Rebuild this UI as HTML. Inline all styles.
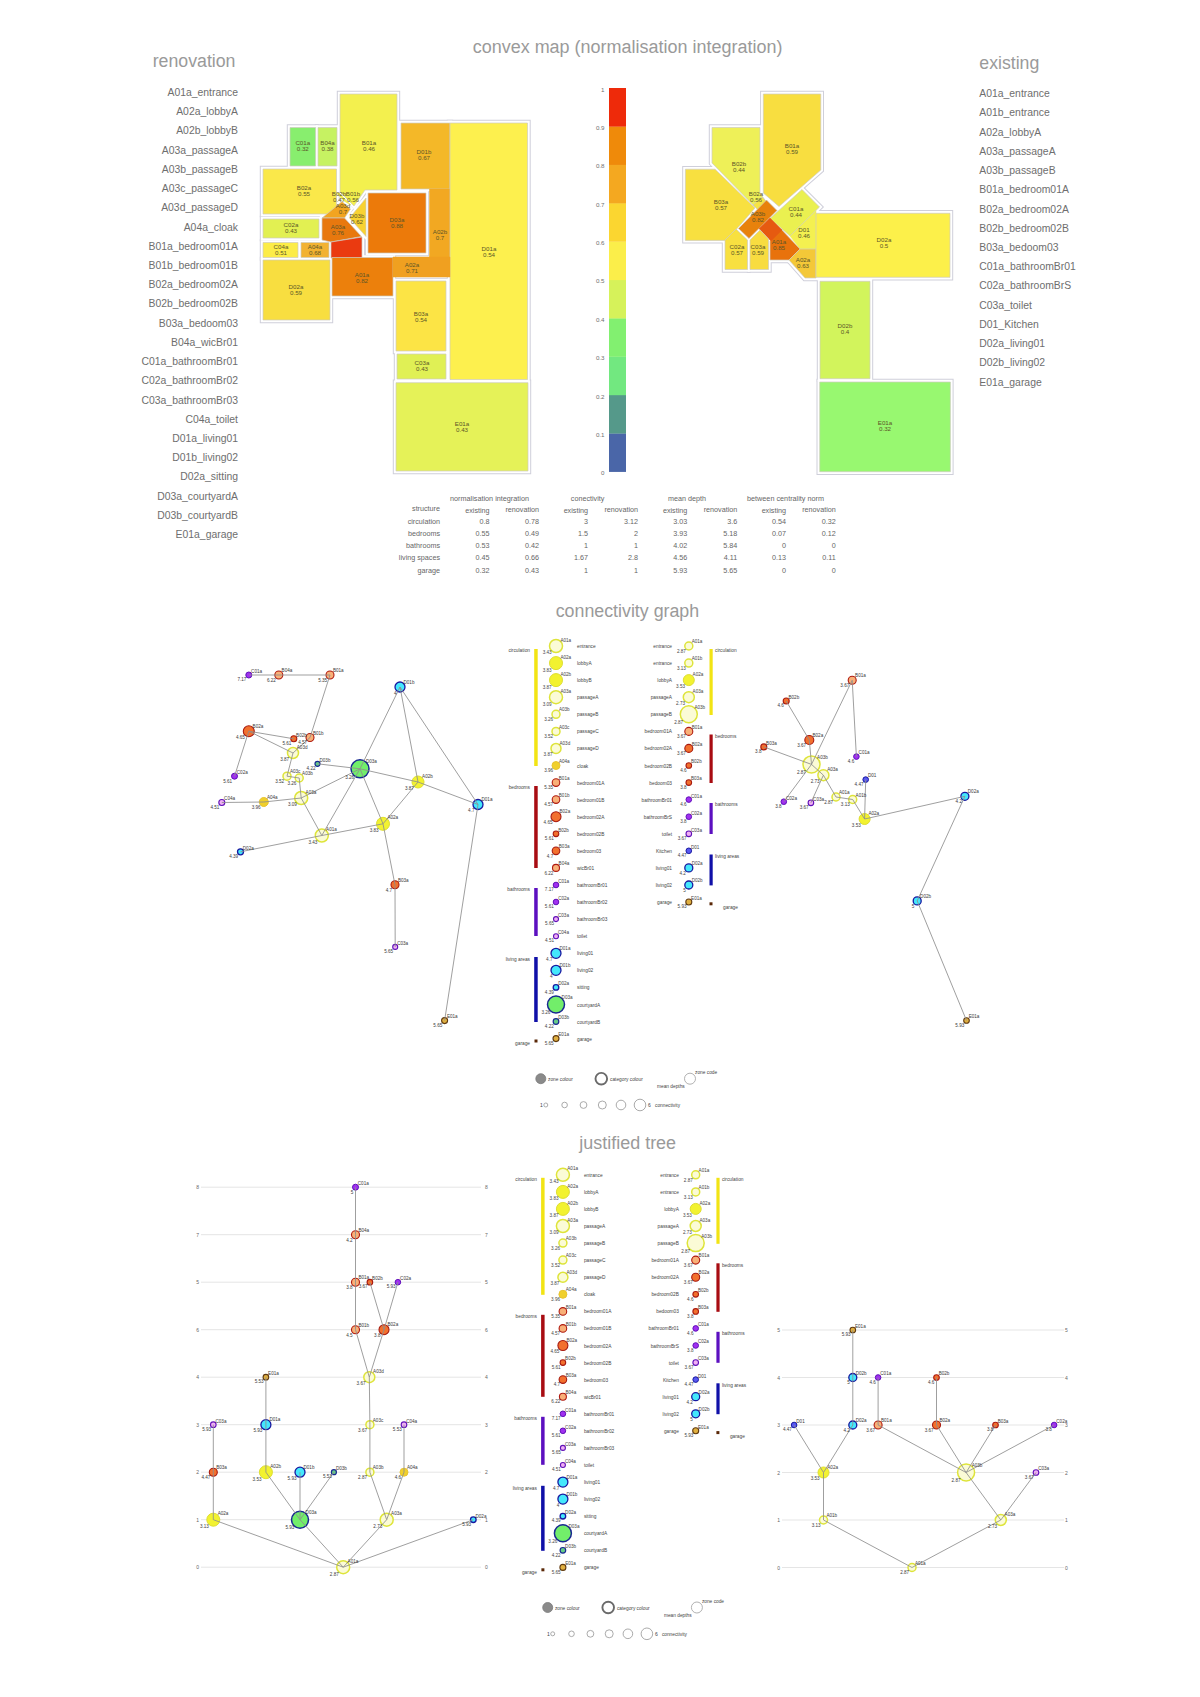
<!DOCTYPE html>
<html><head><meta charset="utf-8"><title>space syntax</title>
<style>html,body{margin:0;padding:0;background:#fff;width:1200px;height:1697px;overflow:hidden}svg{display:block}text{font-family:'Liberation Sans', sans-serif}</style>
</head><body>
<svg width="1200" height="1697" viewBox="0 0 1200 1697">
<rect width="1200" height="1697" fill="#fff"/>
<text x="472.7" y="52.7" font-size="18" fill="#9a9a9a" textLength="309.7" lengthAdjust="spacingAndGlyphs">convex map (normalisation integration)</text>
<text x="152.7" y="66.5" font-size="18" fill="#9a9a9a" textLength="82.80000000000001" lengthAdjust="spacingAndGlyphs">renovation</text>
<text x="979.3" y="68.8" font-size="18.5" fill="#9a9a9a" textLength="60.0" lengthAdjust="spacingAndGlyphs">existing</text>
<text x="555.7" y="617.2" font-size="18" fill="#9a9a9a" textLength="143.5" lengthAdjust="spacingAndGlyphs">connectivity graph</text>
<text x="579.3" y="1149" font-size="18" fill="#9a9a9a" textLength="96.80000000000007" lengthAdjust="spacingAndGlyphs">justified tree</text>
<text x="238.0" y="96.0" font-size="10.4" fill="#6e6e6e" text-anchor="end" >A01a_entrance</text>
<text x="238.0" y="115.2" font-size="10.4" fill="#6e6e6e" text-anchor="end" >A02a_lobbyA</text>
<text x="238.0" y="134.4" font-size="10.4" fill="#6e6e6e" text-anchor="end" >A02b_lobbyB</text>
<text x="238.0" y="153.7" font-size="10.4" fill="#6e6e6e" text-anchor="end" >A03a_passageA</text>
<text x="238.0" y="172.9" font-size="10.4" fill="#6e6e6e" text-anchor="end" >A03b_passageB</text>
<text x="238.0" y="192.1" font-size="10.4" fill="#6e6e6e" text-anchor="end" >A03c_passageC</text>
<text x="238.0" y="211.3" font-size="10.4" fill="#6e6e6e" text-anchor="end" >A03d_passageD</text>
<text x="238.0" y="230.5" font-size="10.4" fill="#6e6e6e" text-anchor="end" >A04a_cloak</text>
<text x="238.0" y="249.8" font-size="10.4" fill="#6e6e6e" text-anchor="end" >B01a_bedroom01A</text>
<text x="238.0" y="269.0" font-size="10.4" fill="#6e6e6e" text-anchor="end" >B01b_bedroom01B</text>
<text x="238.0" y="288.2" font-size="10.4" fill="#6e6e6e" text-anchor="end" >B02a_bedroom02A</text>
<text x="238.0" y="307.4" font-size="10.4" fill="#6e6e6e" text-anchor="end" >B02b_bedroom02B</text>
<text x="238.0" y="326.6" font-size="10.4" fill="#6e6e6e" text-anchor="end" >B03a_bedoom03</text>
<text x="238.0" y="345.9" font-size="10.4" fill="#6e6e6e" text-anchor="end" >B04a_wicBr01</text>
<text x="238.0" y="365.1" font-size="10.4" fill="#6e6e6e" text-anchor="end" >C01a_bathroomBr01</text>
<text x="238.0" y="384.3" font-size="10.4" fill="#6e6e6e" text-anchor="end" >C02a_bathroomBr02</text>
<text x="238.0" y="403.5" font-size="10.4" fill="#6e6e6e" text-anchor="end" >C03a_bathroomBr03</text>
<text x="238.0" y="422.7" font-size="10.4" fill="#6e6e6e" text-anchor="end" >C04a_toilet</text>
<text x="238.0" y="442.0" font-size="10.4" fill="#6e6e6e" text-anchor="end" >D01a_living01</text>
<text x="238.0" y="461.2" font-size="10.4" fill="#6e6e6e" text-anchor="end" >D01b_living02</text>
<text x="238.0" y="480.4" font-size="10.4" fill="#6e6e6e" text-anchor="end" >D02a_sitting</text>
<text x="238.0" y="499.6" font-size="10.4" fill="#6e6e6e" text-anchor="end" >D03a_courtyardA</text>
<text x="238.0" y="518.8" font-size="10.4" fill="#6e6e6e" text-anchor="end" >D03b_courtyardB</text>
<text x="238.0" y="538.1" font-size="10.4" fill="#6e6e6e" text-anchor="end" >E01a_garage</text>
<text x="979.3" y="97.2" font-size="10.4" fill="#6e6e6e" text-anchor="start" >A01a_entrance</text>
<text x="979.3" y="116.4" font-size="10.4" fill="#6e6e6e" text-anchor="start" >A01b_entrance</text>
<text x="979.3" y="135.6" font-size="10.4" fill="#6e6e6e" text-anchor="start" >A02a_lobbyA</text>
<text x="979.3" y="154.9" font-size="10.4" fill="#6e6e6e" text-anchor="start" >A03a_passageA</text>
<text x="979.3" y="174.1" font-size="10.4" fill="#6e6e6e" text-anchor="start" >A03b_passageB</text>
<text x="979.3" y="193.3" font-size="10.4" fill="#6e6e6e" text-anchor="start" >B01a_bedroom01A</text>
<text x="979.3" y="212.5" font-size="10.4" fill="#6e6e6e" text-anchor="start" >B02a_bedroom02A</text>
<text x="979.3" y="231.7" font-size="10.4" fill="#6e6e6e" text-anchor="start" >B02b_bedroom02B</text>
<text x="979.3" y="251.0" font-size="10.4" fill="#6e6e6e" text-anchor="start" >B03a_bedoom03</text>
<text x="979.3" y="270.2" font-size="10.4" fill="#6e6e6e" text-anchor="start" >C01a_bathroomBr01</text>
<text x="979.3" y="289.4" font-size="10.4" fill="#6e6e6e" text-anchor="start" >C02a_bathroomBrS</text>
<text x="979.3" y="308.6" font-size="10.4" fill="#6e6e6e" text-anchor="start" >C03a_toilet</text>
<text x="979.3" y="327.8" font-size="10.4" fill="#6e6e6e" text-anchor="start" >D01_Kitchen</text>
<text x="979.3" y="347.1" font-size="10.4" fill="#6e6e6e" text-anchor="start" >D02a_living01</text>
<text x="979.3" y="366.3" font-size="10.4" fill="#6e6e6e" text-anchor="start" >D02b_living02</text>
<text x="979.3" y="385.5" font-size="10.4" fill="#6e6e6e" text-anchor="start" >E01a_garage</text>
<g fill="#cfcfda" stroke="#cfcfda" stroke-width="6.4" stroke-linejoin="miter"><polygon points="340.0,94.0 397.0,94.0 397.0,190.0 365.0,190.0 354.0,206.0 340.0,192.0"/><polygon points="290.0,127.5 315.6,127.5 315.6,166.0 290.0,166.0"/><polygon points="318.0,127.5 337.0,127.5 337.0,166.0 318.0,166.0"/><polygon points="263.0,169.0 336.5,169.0 336.5,214.0 263.0,214.0"/><polygon points="263.0,219.0 319.0,219.0 319.0,238.0 263.0,238.0"/><polygon points="263.0,242.5 298.0,242.5 298.0,257.5 263.0,257.5"/><polygon points="301.0,242.5 329.0,242.5 329.0,257.5 301.0,257.5"/><polygon points="263.0,260.0 330.0,260.0 330.0,320.0 263.0,320.0"/><polygon points="322.0,218.0 342.0,201.5 350.5,209.0 344.5,218.0"/><polygon points="366.0,198.0 366.0,236.5 349.5,218.0"/><polygon points="322.0,218.0 344.5,218.0 361.5,236.5 331.0,242.0 322.0,240.0"/><polygon points="331.0,242.0 362.0,237.0 362.0,258.0 331.0,258.0"/><polygon points="401.0,123.0 450.0,123.0 450.0,189.0 401.0,189.0"/><polygon points="450.0,123.0 527.5,123.0 527.5,379.5 450.0,379.5"/><polygon points="332.0,257.5 393.0,257.5 393.0,296.0 332.0,296.0"/><polygon points="396.0,281.0 446.0,281.0 446.0,351.0 396.0,351.0"/><polygon points="397.0,354.0 446.0,354.0 446.0,379.0 397.0,379.0"/><polygon points="396.0,382.7 528.0,382.7 528.0,471.0 396.0,471.0"/><polygon points="368.0,193.0 426.0,193.0 426.0,253.0 368.0,253.0"/></g>
<g fill="#fff" stroke="#fff" stroke-width="4.4" stroke-linejoin="miter"><polygon points="340.0,94.0 397.0,94.0 397.0,190.0 365.0,190.0 354.0,206.0 340.0,192.0"/><polygon points="290.0,127.5 315.6,127.5 315.6,166.0 290.0,166.0"/><polygon points="318.0,127.5 337.0,127.5 337.0,166.0 318.0,166.0"/><polygon points="263.0,169.0 336.5,169.0 336.5,214.0 263.0,214.0"/><polygon points="263.0,219.0 319.0,219.0 319.0,238.0 263.0,238.0"/><polygon points="263.0,242.5 298.0,242.5 298.0,257.5 263.0,257.5"/><polygon points="301.0,242.5 329.0,242.5 329.0,257.5 301.0,257.5"/><polygon points="263.0,260.0 330.0,260.0 330.0,320.0 263.0,320.0"/><polygon points="322.0,218.0 342.0,201.5 350.5,209.0 344.5,218.0"/><polygon points="366.0,198.0 366.0,236.5 349.5,218.0"/><polygon points="322.0,218.0 344.5,218.0 361.5,236.5 331.0,242.0 322.0,240.0"/><polygon points="331.0,242.0 362.0,237.0 362.0,258.0 331.0,258.0"/><polygon points="401.0,123.0 450.0,123.0 450.0,189.0 401.0,189.0"/><polygon points="450.0,123.0 527.5,123.0 527.5,379.5 450.0,379.5"/><polygon points="332.0,257.5 393.0,257.5 393.0,296.0 332.0,296.0"/><polygon points="396.0,281.0 446.0,281.0 446.0,351.0 396.0,351.0"/><polygon points="397.0,354.0 446.0,354.0 446.0,379.0 397.0,379.0"/><polygon points="396.0,382.7 528.0,382.7 528.0,471.0 396.0,471.0"/><polygon points="368.0,193.0 426.0,193.0 426.0,253.0 368.0,253.0"/></g>

<polygon points="340.0,94.0 397.0,94.0 397.0,190.0 365.0,190.0 354.0,206.0 340.0,192.0" fill="#f3f04e" stroke="#cfcbc0" stroke-width="0.7"/>
<polygon points="336.5,193.0 339.0,193.0 351.0,205.0 344.0,201.0" fill="#f4ec4c" stroke="#f4ec4c" stroke-width="0.5"/>
<polygon points="290.0,127.5 315.6,127.5 315.6,166.0 290.0,166.0" fill="#88ee6e" stroke="#cfcbc0" stroke-width="0.7"/>
<polygon points="318.0,127.5 337.0,127.5 337.0,166.0 318.0,166.0" fill="#c6f262" stroke="#cfcbc0" stroke-width="0.7"/>
<polygon points="263.0,169.0 336.5,169.0 336.5,214.0 263.0,214.0" fill="#fae84a" stroke="#cfcbc0" stroke-width="0.7"/>
<polygon points="263.0,219.0 319.0,219.0 319.0,238.0 263.0,238.0" fill="#e2f052" stroke="#cfcbc0" stroke-width="0.7"/>
<polygon points="263.0,242.5 298.0,242.5 298.0,257.5 263.0,257.5" fill="#fcec48" stroke="#cfcbc0" stroke-width="0.7"/>
<polygon points="301.0,242.5 329.0,242.5 329.0,257.5 301.0,257.5" fill="#f2b232" stroke="#cfcbc0" stroke-width="0.7"/>
<polygon points="263.0,260.0 330.0,260.0 330.0,320.0 263.0,320.0" fill="#f8de40" stroke="#cfcbc0" stroke-width="0.7"/>
<polygon points="322.0,218.0 342.0,201.5 350.5,209.0 344.5,218.0" fill="#f2a420" stroke="#cfcbc0" stroke-width="0.7"/>
<polygon points="366.0,198.0 366.0,236.5 349.5,218.0" fill="#f8d232" stroke="#cfcbc0" stroke-width="0.7"/>
<polygon points="322.0,218.0 344.5,218.0 361.5,236.5 331.0,242.0 322.0,240.0" fill="#e8780e" stroke="#cfcbc0" stroke-width="0.7"/>
<polygon points="331.0,242.0 362.0,237.0 362.0,258.0 331.0,258.0" fill="#ea3a10" stroke="#cfcbc0" stroke-width="0.7"/>
<polygon points="401.0,123.0 450.0,123.0 450.0,189.0 401.0,189.0" fill="#f4b828" stroke="#cfcbc0" stroke-width="0.7"/>
<polygon points="429.5,189.0 450.0,189.0 450.0,257.0 429.5,257.0" fill="#f2a822" stroke="#f2a822" stroke-width="0.5"/>
<polygon points="450.0,123.0 527.5,123.0 527.5,379.5 450.0,379.5" fill="#fdf04e" stroke="#cfcbc0" stroke-width="0.7"/>
<polygon points="332.0,257.5 393.0,257.5 393.0,296.0 332.0,296.0" fill="#ec800c" stroke="#cfcbc0" stroke-width="0.7"/>
<polygon points="393.0,257.0 450.0,257.0 450.0,277.0 393.0,277.0" fill="#f0a020" stroke="#f0a020" stroke-width="0.5"/>
<polygon points="396.0,281.0 446.0,281.0 446.0,351.0 396.0,351.0" fill="#fce445" stroke="#cfcbc0" stroke-width="0.7"/>
<polygon points="397.0,354.0 446.0,354.0 446.0,379.0 397.0,379.0" fill="#e0f055" stroke="#cfcbc0" stroke-width="0.7"/>
<polygon points="396.0,382.7 528.0,382.7 528.0,471.0 396.0,471.0" fill="#e5f258" stroke="#cfcbc0" stroke-width="0.7"/>
<polygon points="368.0,193.0 426.0,193.0 426.0,253.0 368.0,253.0" fill="#ec7a0a" stroke="#cfcbc0" stroke-width="0.7"/>
<text x="369.0" y="145.0" font-size="6.2" fill="#5c5628" text-anchor="middle" >B01a</text>
<text x="369.0" y="151.0" font-size="6.2" fill="#5c5628" text-anchor="middle" >0.46</text>
<text x="302.8" y="145.0" font-size="6.2" fill="#5c5628" text-anchor="middle" >C01a</text>
<text x="302.8" y="151.0" font-size="6.2" fill="#5c5628" text-anchor="middle" >0.32</text>
<text x="327.5" y="145.0" font-size="6.2" fill="#5c5628" text-anchor="middle" >B04a</text>
<text x="327.5" y="151.0" font-size="6.2" fill="#5c5628" text-anchor="middle" >0.38</text>
<text x="304.0" y="190.0" font-size="6.2" fill="#5c5628" text-anchor="middle" >B02a</text>
<text x="304.0" y="196.0" font-size="6.2" fill="#5c5628" text-anchor="middle" >0.55</text>
<text x="291.0" y="227.0" font-size="6.2" fill="#5c5628" text-anchor="middle" >C02a</text>
<text x="291.0" y="233.0" font-size="6.2" fill="#5c5628" text-anchor="middle" >0.43</text>
<text x="281.0" y="249.0" font-size="6.2" fill="#5c5628" text-anchor="middle" >C04a</text>
<text x="281.0" y="255.0" font-size="6.2" fill="#5c5628" text-anchor="middle" >0.51</text>
<text x="315.0" y="249.0" font-size="6.2" fill="#5c5628" text-anchor="middle" >A04a</text>
<text x="315.0" y="255.0" font-size="6.2" fill="#5c5628" text-anchor="middle" >0.68</text>
<text x="296.0" y="289.0" font-size="6.2" fill="#5c5628" text-anchor="middle" >D02a</text>
<text x="296.0" y="295.0" font-size="6.2" fill="#5c5628" text-anchor="middle" >0.59</text>
<text x="343.0" y="208.0" font-size="6.2" fill="#5c5628" text-anchor="middle" >A03d</text>
<text x="343.0" y="214.0" font-size="6.2" fill="#5c5628" text-anchor="middle" >0.7</text>
<text x="357.0" y="218.0" font-size="6.2" fill="#5c5628" text-anchor="middle" >D03b</text>
<text x="357.0" y="224.0" font-size="6.2" fill="#5c5628" text-anchor="middle" >0.62</text>
<text x="338.0" y="229.0" font-size="6.2" fill="#5c5628" text-anchor="middle" >A03a</text>
<text x="338.0" y="235.0" font-size="6.2" fill="#5c5628" text-anchor="middle" >0.76</text>
<text x="424.0" y="154.0" font-size="6.2" fill="#5c5628" text-anchor="middle" >D01b</text>
<text x="424.0" y="160.0" font-size="6.2" fill="#5c5628" text-anchor="middle" >0.67</text>
<text x="440.0" y="234.0" font-size="6.2" fill="#5c5628" text-anchor="middle" >A02b</text>
<text x="440.0" y="240.0" font-size="6.2" fill="#5c5628" text-anchor="middle" >0.7</text>
<text x="489.0" y="251.0" font-size="6.2" fill="#5c5628" text-anchor="middle" >D01a</text>
<text x="489.0" y="257.0" font-size="6.2" fill="#5c5628" text-anchor="middle" >0.54</text>
<text x="362.0" y="277.0" font-size="6.2" fill="#5c5628" text-anchor="middle" >A01a</text>
<text x="362.0" y="283.0" font-size="6.2" fill="#5c5628" text-anchor="middle" >0.82</text>
<text x="412.0" y="267.0" font-size="6.2" fill="#5c5628" text-anchor="middle" >A02a</text>
<text x="412.0" y="273.0" font-size="6.2" fill="#5c5628" text-anchor="middle" >0.71</text>
<text x="421.0" y="316.0" font-size="6.2" fill="#5c5628" text-anchor="middle" >B03a</text>
<text x="421.0" y="322.0" font-size="6.2" fill="#5c5628" text-anchor="middle" >0.54</text>
<text x="422.0" y="365.0" font-size="6.2" fill="#5c5628" text-anchor="middle" >C03a</text>
<text x="422.0" y="371.0" font-size="6.2" fill="#5c5628" text-anchor="middle" >0.43</text>
<text x="462.0" y="426.0" font-size="6.2" fill="#5c5628" text-anchor="middle" >E01a</text>
<text x="462.0" y="432.0" font-size="6.2" fill="#5c5628" text-anchor="middle" >0.43</text>
<text x="397.0" y="222.0" font-size="6.2" fill="#5c5628" text-anchor="middle" >D03a</text>
<text x="397.0" y="228.0" font-size="6.2" fill="#5c5628" text-anchor="middle" >0.88</text>
<text x="339.0" y="196.0" font-size="6.2" fill="#5c5628" text-anchor="middle" >B02b</text>
<text x="339.0" y="202.0" font-size="6.2" fill="#5c5628" text-anchor="middle" >0.47</text>
<text x="353.0" y="196.0" font-size="6.2" fill="#5c5628" text-anchor="middle" >B01b</text>
<text x="353.0" y="202.0" font-size="6.2" fill="#5c5628" text-anchor="middle" >0.56</text>
<g fill="#cfcfda" stroke="#cfcfda" stroke-width="6.4" stroke-linejoin="miter"><polygon points="763.3,94.0 820.8,94.0 820.8,170.0 779.0,206.5 763.3,193.0"/><polygon points="712.0,127.5 760.0,127.5 760.0,193.0 765.0,200.0 755.0,207.0 712.0,163.0"/><polygon points="685.4,169.2 715.0,169.2 755.0,208.0 738.0,227.5 725.0,240.4 685.4,240.4"/><polygon points="753.0,205.0 762.0,197.0 770.0,205.0 761.0,213.0"/><polygon points="770.0,218.5 802.0,189.5 819.5,207.0 790.0,236.0"/><polygon points="738.5,228.5 766.5,200.0 777.0,210.5 749.0,238.5"/><polygon points="771.0,240.0 781.5,229.5 800.0,249.0 789.0,260.0 770.0,260.0 770.0,241.0"/><polygon points="789.0,260.0 800.0,249.0 816.0,249.0 816.0,278.0 805.0,278.0"/><polygon points="725.0,240.0 736.0,229.0 747.5,240.0 747.5,269.5 725.0,269.5"/><polygon points="750.0,240.0 760.0,230.0 768.5,239.0 768.5,269.5 750.0,269.5"/><polygon points="816.0,213.3 950.0,213.3 950.0,277.3 816.0,277.3"/><polygon points="820.0,281.3 870.0,281.3 870.0,378.7 820.0,378.7"/><polygon points="819.7,382.0 950.4,382.0 950.4,471.7 819.7,471.7"/></g>
<g fill="#fff" stroke="#fff" stroke-width="4.4" stroke-linejoin="miter"><polygon points="763.3,94.0 820.8,94.0 820.8,170.0 779.0,206.5 763.3,193.0"/><polygon points="712.0,127.5 760.0,127.5 760.0,193.0 765.0,200.0 755.0,207.0 712.0,163.0"/><polygon points="685.4,169.2 715.0,169.2 755.0,208.0 738.0,227.5 725.0,240.4 685.4,240.4"/><polygon points="753.0,205.0 762.0,197.0 770.0,205.0 761.0,213.0"/><polygon points="770.0,218.5 802.0,189.5 819.5,207.0 790.0,236.0"/><polygon points="738.5,228.5 766.5,200.0 777.0,210.5 749.0,238.5"/><polygon points="771.0,240.0 781.5,229.5 800.0,249.0 789.0,260.0 770.0,260.0 770.0,241.0"/><polygon points="789.0,260.0 800.0,249.0 816.0,249.0 816.0,278.0 805.0,278.0"/><polygon points="725.0,240.0 736.0,229.0 747.5,240.0 747.5,269.5 725.0,269.5"/><polygon points="750.0,240.0 760.0,230.0 768.5,239.0 768.5,269.5 750.0,269.5"/><polygon points="816.0,213.3 950.0,213.3 950.0,277.3 816.0,277.3"/><polygon points="820.0,281.3 870.0,281.3 870.0,378.7 820.0,378.7"/><polygon points="819.7,382.0 950.4,382.0 950.4,471.7 819.7,471.7"/></g>

<polygon points="763.3,94.0 820.8,94.0 820.8,170.0 779.0,206.5 763.3,193.0" fill="#f8de40" stroke="#cfcbc0" stroke-width="0.7"/>
<polygon points="712.0,127.5 760.0,127.5 760.0,193.0 765.0,200.0 755.0,207.0 712.0,163.0" fill="#eef058" stroke="#cfcbc0" stroke-width="0.7"/>
<polygon points="685.4,169.2 715.0,169.2 755.0,208.0 738.0,227.5 725.0,240.4 685.4,240.4" fill="#f8e040" stroke="#cfcbc0" stroke-width="0.7"/>
<polygon points="753.0,205.0 762.0,197.0 770.0,205.0 761.0,213.0" fill="#f6e444" stroke="#cfcbc0" stroke-width="0.7"/>
<polygon points="790.0,236.0 816.0,210.5 816.0,249.0 800.0,249.0" fill="#f4f050" stroke="#f4f050" stroke-width="0.5"/>
<polygon points="770.0,218.5 802.0,189.5 819.5,207.0 790.0,236.0" fill="#eaf050" stroke="#cfcbc0" stroke-width="0.7"/>
<polygon points="738.5,228.5 766.5,200.0 777.0,210.5 749.0,238.5" fill="#e8820c" stroke="#cfcbc0" stroke-width="0.7"/>
<polygon points="771.0,240.0 781.5,229.5 800.0,249.0 789.0,260.0 770.0,260.0 770.0,241.0" fill="#e8720c" stroke="#cfcbc0" stroke-width="0.7"/>
<polygon points="759.0,228.5 770.0,218.0 782.0,230.0 771.0,241.0" fill="#e65a10" stroke="#e65a10" stroke-width="0.5"/>
<polygon points="789.0,260.0 800.0,249.0 816.0,249.0 816.0,278.0 805.0,278.0" fill="#f4c838" stroke="#cfcbc0" stroke-width="0.7"/>
<polygon points="725.0,240.0 736.0,229.0 747.5,240.0 747.5,269.5 725.0,269.5" fill="#f8e040" stroke="#cfcbc0" stroke-width="0.7"/>
<polygon points="750.0,240.0 760.0,230.0 768.5,239.0 768.5,269.5 750.0,269.5" fill="#f8dc40" stroke="#cfcbc0" stroke-width="0.7"/>
<polygon points="816.0,213.3 950.0,213.3 950.0,277.3 816.0,277.3" fill="#fcf04a" stroke="#cfcbc0" stroke-width="0.7"/>
<polygon points="820.0,281.3 870.0,281.3 870.0,378.7 820.0,378.7" fill="#d2f45c" stroke="#cfcbc0" stroke-width="0.7"/>
<polygon points="819.7,382.0 950.4,382.0 950.4,471.7 819.7,471.7" fill="#98f870" stroke="#cfcbc0" stroke-width="0.7"/>
<text x="792.0" y="148.0" font-size="6.2" fill="#5c5628" text-anchor="middle" >B01a</text>
<text x="792.0" y="154.0" font-size="6.2" fill="#5c5628" text-anchor="middle" >0.59</text>
<text x="739.0" y="166.0" font-size="6.2" fill="#5c5628" text-anchor="middle" >B02b</text>
<text x="739.0" y="172.0" font-size="6.2" fill="#5c5628" text-anchor="middle" >0.44</text>
<text x="721.0" y="204.0" font-size="6.2" fill="#5c5628" text-anchor="middle" >B03a</text>
<text x="721.0" y="210.0" font-size="6.2" fill="#5c5628" text-anchor="middle" >0.57</text>
<text x="756.0" y="196.0" font-size="6.2" fill="#5c5628" text-anchor="middle" >B02a</text>
<text x="756.0" y="202.0" font-size="6.2" fill="#5c5628" text-anchor="middle" >0.56</text>
<text x="804.0" y="232.0" font-size="6.2" fill="#5c5628" text-anchor="middle" >D01</text>
<text x="804.0" y="238.0" font-size="6.2" fill="#5c5628" text-anchor="middle" >0.46</text>
<text x="796.0" y="211.0" font-size="6.2" fill="#5c5628" text-anchor="middle" >C01a</text>
<text x="796.0" y="217.0" font-size="6.2" fill="#5c5628" text-anchor="middle" >0.44</text>
<text x="758.0" y="216.0" font-size="6.2" fill="#5c5628" text-anchor="middle" >A03b</text>
<text x="758.0" y="222.0" font-size="6.2" fill="#5c5628" text-anchor="middle" >0.82</text>
<text x="779.0" y="244.0" font-size="6.2" fill="#5c5628" text-anchor="middle" >A01a</text>
<text x="779.0" y="250.0" font-size="6.2" fill="#5c5628" text-anchor="middle" >0.85</text>
<text x="803.0" y="262.0" font-size="6.2" fill="#5c5628" text-anchor="middle" >A02a</text>
<text x="803.0" y="268.0" font-size="6.2" fill="#5c5628" text-anchor="middle" >0.63</text>
<text x="737.0" y="249.0" font-size="6.2" fill="#5c5628" text-anchor="middle" >C02a</text>
<text x="737.0" y="255.0" font-size="6.2" fill="#5c5628" text-anchor="middle" >0.57</text>
<text x="758.0" y="249.0" font-size="6.2" fill="#5c5628" text-anchor="middle" >C03a</text>
<text x="758.0" y="255.0" font-size="6.2" fill="#5c5628" text-anchor="middle" >0.59</text>
<text x="884.0" y="242.0" font-size="6.2" fill="#5c5628" text-anchor="middle" >D02a</text>
<text x="884.0" y="248.0" font-size="6.2" fill="#5c5628" text-anchor="middle" >0.5</text>
<text x="845.0" y="328.0" font-size="6.2" fill="#5c5628" text-anchor="middle" >D02b</text>
<text x="845.0" y="334.0" font-size="6.2" fill="#5c5628" text-anchor="middle" >0.4</text>
<text x="885.0" y="425.0" font-size="6.2" fill="#5c5628" text-anchor="middle" >E01a</text>
<text x="885.0" y="431.0" font-size="6.2" fill="#5c5628" text-anchor="middle" >0.32</text>
<rect x="609" y="433.33" width="17" height="38.6" fill="#4a66a8"/>
<rect x="609" y="394.96" width="17" height="38.6" fill="#55998a"/>
<rect x="609" y="356.59" width="17" height="38.6" fill="#72e880"/>
<rect x="609" y="318.22" width="17" height="38.6" fill="#82f070"/>
<rect x="609" y="279.85" width="17" height="38.6" fill="#d6f25a"/>
<rect x="609" y="241.48" width="17" height="38.6" fill="#fbee4a"/>
<rect x="609" y="203.11" width="17" height="38.6" fill="#fbd630"/>
<rect x="609" y="164.74" width="17" height="38.6" fill="#f4a820"/>
<rect x="609" y="126.37" width="17" height="38.6" fill="#ef8a0a"/>
<rect x="609" y="88.00" width="17" height="38.6" fill="#ee2a0a"/>
<text x="604.5" y="475.2" font-size="6.2" fill="#707070" text-anchor="end" >0</text>
<text x="604.5" y="436.8" font-size="6.2" fill="#707070" text-anchor="end" >0.1</text>
<text x="604.5" y="398.5" font-size="6.2" fill="#707070" text-anchor="end" >0.2</text>
<text x="604.5" y="360.1" font-size="6.2" fill="#707070" text-anchor="end" >0.3</text>
<text x="604.5" y="321.7" font-size="6.2" fill="#707070" text-anchor="end" >0.4</text>
<text x="604.5" y="283.4" font-size="6.2" fill="#707070" text-anchor="end" >0.5</text>
<text x="604.5" y="245.0" font-size="6.2" fill="#707070" text-anchor="end" >0.6</text>
<text x="604.5" y="206.6" font-size="6.2" fill="#707070" text-anchor="end" >0.7</text>
<text x="604.5" y="168.2" font-size="6.2" fill="#707070" text-anchor="end" >0.8</text>
<text x="604.5" y="129.9" font-size="6.2" fill="#707070" text-anchor="end" >0.9</text>
<text x="604.5" y="91.5" font-size="6.2" fill="#707070" text-anchor="end" >1</text>
<text x="450.0" y="501.0" font-size="7.2" fill="#666" text-anchor="start" textLength="79" lengthAdjust="spacingAndGlyphs">normalisation integration</text>
<text x="570.8" y="501.0" font-size="7.2" fill="#666" text-anchor="start" >conectivity</text>
<text x="668.0" y="501.0" font-size="7.2" fill="#666" text-anchor="start" >mean depth</text>
<text x="747.0" y="501.0" font-size="7.2" fill="#666" text-anchor="start" textLength="77" lengthAdjust="spacingAndGlyphs">between centrality norm</text>
<text x="440.0" y="511.0" font-size="7.2" fill="#666" text-anchor="end" >structure</text>
<text x="489.6" y="513.0" font-size="7.2" fill="#666" text-anchor="end" >existing</text>
<text x="539.0" y="511.7" font-size="7.2" fill="#666" text-anchor="end" >renovation</text>
<text x="588.0" y="513.0" font-size="7.2" fill="#666" text-anchor="end" >existing</text>
<text x="638.0" y="511.7" font-size="7.2" fill="#666" text-anchor="end" >renovation</text>
<text x="687.3" y="513.0" font-size="7.2" fill="#666" text-anchor="end" >existing</text>
<text x="737.3" y="511.7" font-size="7.2" fill="#666" text-anchor="end" >renovation</text>
<text x="786.0" y="513.0" font-size="7.2" fill="#666" text-anchor="end" >existing</text>
<text x="835.8" y="511.7" font-size="7.2" fill="#666" text-anchor="end" >renovation</text>
<text x="440.0" y="523.5" font-size="7.2" fill="#666" text-anchor="end" >circulation</text>
<text x="489.6" y="523.5" font-size="7.2" fill="#666" text-anchor="end" >0.8</text>
<text x="539.0" y="523.5" font-size="7.2" fill="#666" text-anchor="end" >0.78</text>
<text x="588.0" y="523.5" font-size="7.2" fill="#666" text-anchor="end" >3</text>
<text x="638.0" y="523.5" font-size="7.2" fill="#666" text-anchor="end" >3.12</text>
<text x="687.3" y="523.5" font-size="7.2" fill="#666" text-anchor="end" >3.03</text>
<text x="737.3" y="523.5" font-size="7.2" fill="#666" text-anchor="end" >3.6</text>
<text x="786.0" y="523.5" font-size="7.2" fill="#666" text-anchor="end" >0.54</text>
<text x="835.8" y="523.5" font-size="7.2" fill="#666" text-anchor="end" >0.32</text>
<text x="440.0" y="535.8" font-size="7.2" fill="#666" text-anchor="end" >bedrooms</text>
<text x="489.6" y="535.8" font-size="7.2" fill="#666" text-anchor="end" >0.55</text>
<text x="539.0" y="535.8" font-size="7.2" fill="#666" text-anchor="end" >0.49</text>
<text x="588.0" y="535.8" font-size="7.2" fill="#666" text-anchor="end" >1.5</text>
<text x="638.0" y="535.8" font-size="7.2" fill="#666" text-anchor="end" >2</text>
<text x="687.3" y="535.8" font-size="7.2" fill="#666" text-anchor="end" >3.93</text>
<text x="737.3" y="535.8" font-size="7.2" fill="#666" text-anchor="end" >5.18</text>
<text x="786.0" y="535.8" font-size="7.2" fill="#666" text-anchor="end" >0.07</text>
<text x="835.8" y="535.8" font-size="7.2" fill="#666" text-anchor="end" >0.12</text>
<text x="440.0" y="548.0" font-size="7.2" fill="#666" text-anchor="end" >bathrooms</text>
<text x="489.6" y="548.0" font-size="7.2" fill="#666" text-anchor="end" >0.53</text>
<text x="539.0" y="548.0" font-size="7.2" fill="#666" text-anchor="end" >0.42</text>
<text x="588.0" y="548.0" font-size="7.2" fill="#666" text-anchor="end" >1</text>
<text x="638.0" y="548.0" font-size="7.2" fill="#666" text-anchor="end" >1</text>
<text x="687.3" y="548.0" font-size="7.2" fill="#666" text-anchor="end" >4.02</text>
<text x="737.3" y="548.0" font-size="7.2" fill="#666" text-anchor="end" >5.84</text>
<text x="786.0" y="548.0" font-size="7.2" fill="#666" text-anchor="end" >0</text>
<text x="835.8" y="548.0" font-size="7.2" fill="#666" text-anchor="end" >0</text>
<text x="440.0" y="560.2" font-size="7.2" fill="#666" text-anchor="end" >living spaces</text>
<text x="489.6" y="560.2" font-size="7.2" fill="#666" text-anchor="end" >0.45</text>
<text x="539.0" y="560.2" font-size="7.2" fill="#666" text-anchor="end" >0.66</text>
<text x="588.0" y="560.2" font-size="7.2" fill="#666" text-anchor="end" >1.67</text>
<text x="638.0" y="560.2" font-size="7.2" fill="#666" text-anchor="end" >2.8</text>
<text x="687.3" y="560.2" font-size="7.2" fill="#666" text-anchor="end" >4.56</text>
<text x="737.3" y="560.2" font-size="7.2" fill="#666" text-anchor="end" >4.11</text>
<text x="786.0" y="560.2" font-size="7.2" fill="#666" text-anchor="end" >0.13</text>
<text x="835.8" y="560.2" font-size="7.2" fill="#666" text-anchor="end" >0.11</text>
<text x="440.0" y="572.5" font-size="7.2" fill="#666" text-anchor="end" >garage</text>
<text x="489.6" y="572.5" font-size="7.2" fill="#666" text-anchor="end" >0.32</text>
<text x="539.0" y="572.5" font-size="7.2" fill="#666" text-anchor="end" >0.43</text>
<text x="588.0" y="572.5" font-size="7.2" fill="#666" text-anchor="end" >1</text>
<text x="638.0" y="572.5" font-size="7.2" fill="#666" text-anchor="end" >1</text>
<text x="687.3" y="572.5" font-size="7.2" fill="#666" text-anchor="end" >5.93</text>
<text x="737.3" y="572.5" font-size="7.2" fill="#666" text-anchor="end" >5.65</text>
<text x="786.0" y="572.5" font-size="7.2" fill="#666" text-anchor="end" >0</text>
<text x="835.8" y="572.5" font-size="7.2" fill="#666" text-anchor="end" >0</text>
<circle cx="248.8" cy="675.0" r="3" fill="#a030f0" stroke="#6010b8" stroke-width="1.0"/>
<circle cx="278.8" cy="675.0" r="4" fill="#f8b078" stroke="#b01a10" stroke-width="1.1"/>
<circle cx="330.0" cy="675.0" r="4" fill="#f8b078" stroke="#b01a10" stroke-width="1.1"/>
<circle cx="400.0" cy="687.0" r="5" fill="#44e8fc" stroke="#1818a0" stroke-width="1.3"/>
<circle cx="248.8" cy="731.2" r="5.5" fill="#f2702e" stroke="#a81a10" stroke-width="1.1"/>
<circle cx="293.8" cy="738.8" r="3" fill="#f2702e" stroke="#a81a10" stroke-width="1.1"/>
<circle cx="310.0" cy="737.5" r="4" fill="#f8b078" stroke="#b01a10" stroke-width="1.1"/>
<circle cx="293.0" cy="753.0" r="5.5" fill="#fbfbd6" stroke="#dee43a" stroke-width="1.5"/>
<circle cx="317.5" cy="763.8" r="2.5" fill="#66cc88" stroke="#182890" stroke-width="1.2"/>
<circle cx="360.0" cy="768.8" r="9" fill="#72ee6a" stroke="#182890" stroke-width="1.5"/>
<circle cx="234.5" cy="776.2" r="3" fill="#a030f0" stroke="#6010b8" stroke-width="1.0"/>
<circle cx="287.0" cy="776.2" r="4" fill="#fbfbd6" stroke="#dee43a" stroke-width="1.5"/>
<circle cx="299.2" cy="778.0" r="4" fill="#fbfbd6" stroke="#dee43a" stroke-width="1.5"/>
<circle cx="418.0" cy="782.0" r="6" fill="#f2f230" stroke="#dede30" stroke-width="1.0"/>
<circle cx="221.8" cy="802.5" r="3" fill="#f0b0f4" stroke="#6010b8" stroke-width="1.1"/>
<circle cx="263.8" cy="802.0" r="4.5" fill="#f0d02c" stroke="#e8c430" stroke-width="1.0"/>
<circle cx="301.2" cy="798.0" r="6.5" fill="#fbfbd6" stroke="#dee43a" stroke-width="1.5"/>
<circle cx="478.0" cy="804.5" r="5" fill="#44e8fc" stroke="#1818a0" stroke-width="1.3"/>
<circle cx="383.0" cy="823.8" r="6.5" fill="#f2f230" stroke="#dede30" stroke-width="1.0"/>
<circle cx="321.8" cy="835.5" r="6.5" fill="#fbfbd6" stroke="#dee43a" stroke-width="1.5"/>
<circle cx="240.5" cy="851.8" r="3" fill="#44e8fc" stroke="#1818a0" stroke-width="1.3"/>
<circle cx="395.0" cy="884.8" r="4" fill="#f2702e" stroke="#a81a10" stroke-width="1.1"/>
<circle cx="395.2" cy="946.9" r="2.5" fill="#f0b0f4" stroke="#6010b8" stroke-width="1.1"/>
<circle cx="444.6" cy="1020.6" r="3" fill="#e0b040" stroke="#603a10" stroke-width="1.1"/>
<path d="M248.8 675.0L278.8 675.0M278.8 675.0L330.0 675.0M330.0 675.0L310.0 737.5M248.8 731.2L293.8 738.8M248.8 731.2L293.0 753.0M248.8 731.2L234.5 776.2M310.0 737.5L293.0 753.0M293.0 753.0L287.0 776.2M287.0 776.2L299.2 778.0M299.2 778.0L301.2 798.0M317.5 763.8L360.0 768.8M360.0 768.8L400.0 687.0M360.0 768.8L418.0 782.0M360.0 768.8L301.2 798.0M360.0 768.8L321.8 835.5M360.0 768.8L383.0 823.8M400.0 687.0L418.0 782.0M400.0 687.0L478.0 804.5M418.0 782.0L478.0 804.5M418.0 782.0L383.0 823.8M221.8 802.5L263.8 802.0M263.8 802.0L301.2 798.0M301.2 798.0L321.8 835.5M321.8 835.5L383.0 823.8M321.8 835.5L240.5 851.8M383.0 823.8L395.0 884.8M395.0 884.8L395.2 946.9M478.0 804.5L444.6 1020.6" stroke="#8e8e8e" stroke-width="0.85" fill="none"/>
<text x="251.1" y="672.7" font-size="4.6" fill="#3a3a3a" text-anchor="start" >C01a</text>
<text x="246.4" y="681.3" font-size="4.6" fill="#3a3a3a" text-anchor="end" >7.17</text>
<text x="281.6" y="672.1" font-size="4.6" fill="#3a3a3a" text-anchor="start" >B04a</text>
<text x="275.9" y="681.9" font-size="4.6" fill="#3a3a3a" text-anchor="end" >6.22</text>
<text x="332.9" y="672.1" font-size="4.6" fill="#3a3a3a" text-anchor="start" >B01a</text>
<text x="327.1" y="681.9" font-size="4.6" fill="#3a3a3a" text-anchor="end" >5.35</text>
<text x="403.5" y="683.5" font-size="4.6" fill="#3a3a3a" text-anchor="start" >D01b</text>
<text x="396.5" y="694.5" font-size="4.6" fill="#3a3a3a" text-anchor="end" >4</text>
<text x="252.6" y="727.5" font-size="4.6" fill="#3a3a3a" text-anchor="start" >B02a</text>
<text x="244.9" y="739.0" font-size="4.6" fill="#3a3a3a" text-anchor="end" >4.65</text>
<text x="296.1" y="736.5" font-size="4.6" fill="#3a3a3a" text-anchor="start" >B02b</text>
<text x="291.4" y="745.0" font-size="4.6" fill="#3a3a3a" text-anchor="end" >5.61</text>
<text x="312.9" y="734.6" font-size="4.6" fill="#3a3a3a" text-anchor="start" >B01b</text>
<text x="307.1" y="744.4" font-size="4.6" fill="#3a3a3a" text-anchor="end" >4.57</text>
<text x="296.8" y="749.2" font-size="4.6" fill="#3a3a3a" text-anchor="start" >A03d</text>
<text x="289.2" y="760.8" font-size="4.6" fill="#3a3a3a" text-anchor="end" >3.87</text>
<text x="319.5" y="761.8" font-size="4.6" fill="#3a3a3a" text-anchor="start" >D03b</text>
<text x="315.5" y="769.8" font-size="4.6" fill="#3a3a3a" text-anchor="end" >4.22</text>
<text x="365.9" y="762.9" font-size="4.6" fill="#3a3a3a" text-anchor="start" >D03a</text>
<text x="354.1" y="778.6" font-size="4.6" fill="#3a3a3a" text-anchor="end" >3.26</text>
<text x="236.8" y="774.0" font-size="4.6" fill="#3a3a3a" text-anchor="start" >C02a</text>
<text x="232.2" y="782.5" font-size="4.6" fill="#3a3a3a" text-anchor="end" >5.61</text>
<text x="289.9" y="773.4" font-size="4.6" fill="#3a3a3a" text-anchor="start" >A03c</text>
<text x="284.1" y="783.1" font-size="4.6" fill="#3a3a3a" text-anchor="end" >3.52</text>
<text x="302.1" y="775.1" font-size="4.6" fill="#3a3a3a" text-anchor="start" >A03b</text>
<text x="296.4" y="784.9" font-size="4.6" fill="#3a3a3a" text-anchor="end" >3.26</text>
<text x="422.1" y="777.9" font-size="4.6" fill="#3a3a3a" text-anchor="start" >A02b</text>
<text x="413.9" y="790.1" font-size="4.6" fill="#3a3a3a" text-anchor="end" >3.87</text>
<text x="224.1" y="800.2" font-size="4.6" fill="#3a3a3a" text-anchor="start" >C04a</text>
<text x="219.4" y="808.8" font-size="4.6" fill="#3a3a3a" text-anchor="end" >4.51</text>
<text x="266.9" y="798.8" font-size="4.6" fill="#3a3a3a" text-anchor="start" >A04a</text>
<text x="260.6" y="809.2" font-size="4.6" fill="#3a3a3a" text-anchor="end" >3.96</text>
<text x="305.6" y="793.6" font-size="4.6" fill="#3a3a3a" text-anchor="start" >A03a</text>
<text x="296.9" y="806.4" font-size="4.6" fill="#3a3a3a" text-anchor="end" >3.09</text>
<text x="481.5" y="801.0" font-size="4.6" fill="#3a3a3a" text-anchor="start" >D01a</text>
<text x="474.5" y="812.0" font-size="4.6" fill="#3a3a3a" text-anchor="end" >4.7</text>
<text x="387.4" y="819.4" font-size="4.6" fill="#3a3a3a" text-anchor="start" >A02a</text>
<text x="378.6" y="832.1" font-size="4.6" fill="#3a3a3a" text-anchor="end" >3.83</text>
<text x="326.1" y="831.1" font-size="4.6" fill="#3a3a3a" text-anchor="start" >A01a</text>
<text x="317.4" y="843.9" font-size="4.6" fill="#3a3a3a" text-anchor="end" >3.43</text>
<text x="242.8" y="849.5" font-size="4.6" fill="#3a3a3a" text-anchor="start" >D02a</text>
<text x="238.2" y="858.0" font-size="4.6" fill="#3a3a3a" text-anchor="end" >4.39</text>
<text x="397.9" y="881.9" font-size="4.6" fill="#3a3a3a" text-anchor="start" >B03a</text>
<text x="392.1" y="891.6" font-size="4.6" fill="#3a3a3a" text-anchor="end" >4.7</text>
<text x="397.2" y="944.9" font-size="4.6" fill="#3a3a3a" text-anchor="start" >C03a</text>
<text x="393.2" y="952.9" font-size="4.6" fill="#3a3a3a" text-anchor="end" >5.65</text>
<text x="446.9" y="1018.3" font-size="4.6" fill="#3a3a3a" text-anchor="start" >E01a</text>
<text x="442.3" y="1026.9" font-size="4.6" fill="#3a3a3a" text-anchor="end" >5.65</text>
<circle cx="852.2" cy="680.3" r="4" fill="#f8b078" stroke="#b01a10" stroke-width="1.1"/>
<circle cx="786.2" cy="701.0" r="3" fill="#f2702e" stroke="#a81a10" stroke-width="1.1"/>
<circle cx="809.3" cy="740.0" r="4.5" fill="#f2702e" stroke="#a81a10" stroke-width="1.1"/>
<circle cx="763.8" cy="746.9" r="3" fill="#f2702e" stroke="#a81a10" stroke-width="1.1"/>
<circle cx="811.5" cy="764.4" r="8.5" fill="#fbfbd6" stroke="#dee43a" stroke-width="1.5"/>
<circle cx="856.4" cy="756.6" r="2.8" fill="#a030f0" stroke="#6010b8" stroke-width="1.0"/>
<circle cx="823.4" cy="775.2" r="5.5" fill="#fbfbd6" stroke="#dee43a" stroke-width="1.5"/>
<circle cx="865.7" cy="779.6" r="2.8" fill="#5858f0" stroke="#1818a0" stroke-width="1.0"/>
<circle cx="836.0" cy="797.0" r="4" fill="#fbfbd6" stroke="#dee43a" stroke-width="1.5"/>
<circle cx="852.7" cy="799.5" r="4" fill="#fbfbd6" stroke="#dee43a" stroke-width="1.5"/>
<circle cx="783.8" cy="801.7" r="2.8" fill="#a030f0" stroke="#6010b8" stroke-width="1.0"/>
<circle cx="810.9" cy="802.8" r="2.8" fill="#f0b0f4" stroke="#6010b8" stroke-width="1.1"/>
<circle cx="864.6" cy="819.0" r="5.5" fill="#f2f230" stroke="#dede30" stroke-width="1.0"/>
<circle cx="964.9" cy="796.3" r="4" fill="#44e8fc" stroke="#1818a0" stroke-width="1.3"/>
<circle cx="917.2" cy="900.9" r="4" fill="#44e8fc" stroke="#1818a0" stroke-width="1.3"/>
<circle cx="966.5" cy="1020.5" r="2.8" fill="#e0b040" stroke="#603a10" stroke-width="1.1"/>
<path d="M852.2 680.3L811.5 764.4M852.2 680.3L856.4 756.6M786.2 701.0L809.3 740.0M809.3 740.0L811.5 764.4M763.8 746.9L811.5 764.4M811.5 764.4L823.4 775.2M823.4 775.2L836.0 797.0M811.5 764.4L783.8 801.7M823.4 775.2L810.9 802.8M836.0 797.0L852.7 799.5M852.7 799.5L864.6 819.0M865.7 779.6L864.6 819.0M864.6 819.0L964.9 796.3M964.9 796.3L917.2 900.9M917.2 900.9L966.5 1020.5" stroke="#8e8e8e" stroke-width="0.85" fill="none"/>
<text x="855.1" y="677.4" font-size="4.6" fill="#3a3a3a" text-anchor="start" >B01a</text>
<text x="849.3" y="687.2" font-size="4.6" fill="#3a3a3a" text-anchor="end" >3.67</text>
<text x="788.5" y="698.7" font-size="4.6" fill="#3a3a3a" text-anchor="start" >B02b</text>
<text x="783.9" y="707.3" font-size="4.6" fill="#3a3a3a" text-anchor="end" >4.6</text>
<text x="812.5" y="736.8" font-size="4.6" fill="#3a3a3a" text-anchor="start" >B02a</text>
<text x="806.1" y="747.2" font-size="4.6" fill="#3a3a3a" text-anchor="end" >3.67</text>
<text x="766.1" y="744.6" font-size="4.6" fill="#3a3a3a" text-anchor="start" >B03a</text>
<text x="761.5" y="753.2" font-size="4.6" fill="#3a3a3a" text-anchor="end" >3.8</text>
<text x="817.1" y="758.8" font-size="4.6" fill="#3a3a3a" text-anchor="start" >A03b</text>
<text x="805.9" y="774.0" font-size="4.6" fill="#3a3a3a" text-anchor="end" >2.87</text>
<text x="858.6" y="754.4" font-size="4.6" fill="#3a3a3a" text-anchor="start" >C01a</text>
<text x="854.2" y="762.8" font-size="4.6" fill="#3a3a3a" text-anchor="end" >4.6</text>
<text x="827.2" y="771.4" font-size="4.6" fill="#3a3a3a" text-anchor="start" >A03a</text>
<text x="819.6" y="783.0" font-size="4.6" fill="#3a3a3a" text-anchor="end" >2.73</text>
<text x="867.9" y="777.4" font-size="4.6" fill="#3a3a3a" text-anchor="start" >D01</text>
<text x="863.5" y="785.8" font-size="4.6" fill="#3a3a3a" text-anchor="end" >4.47</text>
<text x="838.9" y="794.1" font-size="4.6" fill="#3a3a3a" text-anchor="start" >A01a</text>
<text x="833.1" y="803.9" font-size="4.6" fill="#3a3a3a" text-anchor="end" >2.87</text>
<text x="855.6" y="796.6" font-size="4.6" fill="#3a3a3a" text-anchor="start" >A01b</text>
<text x="849.8" y="806.4" font-size="4.6" fill="#3a3a3a" text-anchor="end" >3.13</text>
<text x="786.0" y="799.5" font-size="4.6" fill="#3a3a3a" text-anchor="start" >C02a</text>
<text x="781.6" y="807.9" font-size="4.6" fill="#3a3a3a" text-anchor="end" >3.8</text>
<text x="813.1" y="800.6" font-size="4.6" fill="#3a3a3a" text-anchor="start" >C03a</text>
<text x="808.7" y="809.0" font-size="4.6" fill="#3a3a3a" text-anchor="end" >3.67</text>
<text x="868.4" y="815.2" font-size="4.6" fill="#3a3a3a" text-anchor="start" >A02a</text>
<text x="860.8" y="826.8" font-size="4.6" fill="#3a3a3a" text-anchor="end" >3.53</text>
<text x="967.8" y="793.4" font-size="4.6" fill="#3a3a3a" text-anchor="start" >D02a</text>
<text x="962.0" y="803.2" font-size="4.6" fill="#3a3a3a" text-anchor="end" >4.2</text>
<text x="920.1" y="898.0" font-size="4.6" fill="#3a3a3a" text-anchor="start" >D02b</text>
<text x="914.3" y="907.8" font-size="4.6" fill="#3a3a3a" text-anchor="end" >5</text>
<text x="968.7" y="1018.3" font-size="4.6" fill="#3a3a3a" text-anchor="start" >E01a</text>
<text x="964.3" y="1026.7" font-size="4.6" fill="#3a3a3a" text-anchor="end" >5.93</text>
<circle cx="556.0" cy="646.0" r="6.5" fill="#fbfbd6" stroke="#dee43a" stroke-width="1.5"/>
<text x="560.4" y="641.6" font-size="4.6" fill="#444" text-anchor="start" >A01a</text>
<text x="551.6" y="654.4" font-size="4.6" fill="#444" text-anchor="end" >3.43</text>
<text x="577.0" y="648.0" font-size="4.8" fill="#444" text-anchor="start" >entrance</text>
<circle cx="556.0" cy="663.1" r="6.5" fill="#f2f230" stroke="#dede30" stroke-width="1.0"/>
<text x="560.4" y="658.7" font-size="4.6" fill="#444" text-anchor="start" >A02a</text>
<text x="551.6" y="671.5" font-size="4.6" fill="#444" text-anchor="end" >3.83</text>
<text x="577.0" y="665.1" font-size="4.8" fill="#444" text-anchor="start" >lobbyA</text>
<circle cx="556.0" cy="680.1" r="6.5" fill="#f2f230" stroke="#dede30" stroke-width="1.0"/>
<text x="560.4" y="675.7" font-size="4.6" fill="#444" text-anchor="start" >A02b</text>
<text x="551.6" y="688.5" font-size="4.6" fill="#444" text-anchor="end" >3.87</text>
<text x="577.0" y="682.1" font-size="4.8" fill="#444" text-anchor="start" >lobbyB</text>
<circle cx="556.0" cy="697.2" r="6.5" fill="#fbfbd6" stroke="#dee43a" stroke-width="1.5"/>
<text x="560.4" y="692.8" font-size="4.6" fill="#444" text-anchor="start" >A03a</text>
<text x="551.6" y="705.6" font-size="4.6" fill="#444" text-anchor="end" >3.09</text>
<text x="577.0" y="699.2" font-size="4.8" fill="#444" text-anchor="start" >passageA</text>
<circle cx="556.0" cy="714.3" r="4" fill="#fbfbd6" stroke="#dee43a" stroke-width="1.5"/>
<text x="558.9" y="711.4" font-size="4.6" fill="#444" text-anchor="start" >A03b</text>
<text x="553.1" y="721.2" font-size="4.6" fill="#444" text-anchor="end" >3.26</text>
<text x="577.0" y="716.3" font-size="4.8" fill="#444" text-anchor="start" >passageB</text>
<circle cx="556.0" cy="731.4" r="4" fill="#fbfbd6" stroke="#dee43a" stroke-width="1.5"/>
<text x="558.9" y="728.5" font-size="4.6" fill="#444" text-anchor="start" >A03c</text>
<text x="553.1" y="738.2" font-size="4.6" fill="#444" text-anchor="end" >3.52</text>
<text x="577.0" y="733.4" font-size="4.8" fill="#444" text-anchor="start" >passageC</text>
<circle cx="556.0" cy="748.4" r="5" fill="#fbfbd6" stroke="#dee43a" stroke-width="1.5"/>
<text x="559.5" y="744.9" font-size="4.6" fill="#444" text-anchor="start" >A03d</text>
<text x="552.5" y="755.9" font-size="4.6" fill="#444" text-anchor="end" >3.87</text>
<text x="577.0" y="750.4" font-size="4.8" fill="#444" text-anchor="start" >passageD</text>
<circle cx="556.0" cy="765.5" r="4" fill="#f0d02c" stroke="#e8c430" stroke-width="1.0"/>
<text x="558.9" y="762.6" font-size="4.6" fill="#444" text-anchor="start" >A04a</text>
<text x="553.1" y="772.4" font-size="4.6" fill="#444" text-anchor="end" >3.96</text>
<text x="577.0" y="767.5" font-size="4.8" fill="#444" text-anchor="start" >cloak</text>
<circle cx="556.0" cy="782.6" r="3.8" fill="#f8b078" stroke="#b01a10" stroke-width="1.1"/>
<text x="558.8" y="779.8" font-size="4.6" fill="#444" text-anchor="start" >B01a</text>
<text x="553.2" y="789.3" font-size="4.6" fill="#444" text-anchor="end" >5.35</text>
<text x="577.0" y="784.6" font-size="4.8" fill="#444" text-anchor="start" >bedroom01A</text>
<circle cx="556.0" cy="799.6" r="3.8" fill="#f8b078" stroke="#b01a10" stroke-width="1.1"/>
<text x="558.8" y="796.9" font-size="4.6" fill="#444" text-anchor="start" >B01b</text>
<text x="553.2" y="806.4" font-size="4.6" fill="#444" text-anchor="end" >4.57</text>
<text x="577.0" y="801.6" font-size="4.8" fill="#444" text-anchor="start" >bedroom01B</text>
<circle cx="556.0" cy="816.7" r="5" fill="#f2702e" stroke="#a81a10" stroke-width="1.1"/>
<text x="559.5" y="813.2" font-size="4.6" fill="#444" text-anchor="start" >B02a</text>
<text x="552.5" y="824.2" font-size="4.6" fill="#444" text-anchor="end" >4.65</text>
<text x="577.0" y="818.7" font-size="4.8" fill="#444" text-anchor="start" >bedroom02A</text>
<circle cx="556.0" cy="833.8" r="2.8" fill="#f2702e" stroke="#a81a10" stroke-width="1.1"/>
<text x="558.2" y="831.6" font-size="4.6" fill="#444" text-anchor="start" >B02b</text>
<text x="553.8" y="839.9" font-size="4.6" fill="#444" text-anchor="end" >5.61</text>
<text x="577.0" y="835.8" font-size="4.8" fill="#444" text-anchor="start" >bedroom02B</text>
<circle cx="556.0" cy="850.8" r="3.8" fill="#f2702e" stroke="#a81a10" stroke-width="1.1"/>
<text x="558.8" y="848.1" font-size="4.6" fill="#444" text-anchor="start" >B03a</text>
<text x="553.2" y="857.6" font-size="4.6" fill="#444" text-anchor="end" >4.7</text>
<text x="577.0" y="852.8" font-size="4.8" fill="#444" text-anchor="start" >bedroom03</text>
<circle cx="556.0" cy="867.9" r="3.5" fill="#f8b078" stroke="#b01a10" stroke-width="1.1"/>
<text x="558.6" y="865.3" font-size="4.6" fill="#444" text-anchor="start" >B04a</text>
<text x="553.4" y="874.5" font-size="4.6" fill="#444" text-anchor="end" >6.22</text>
<text x="577.0" y="869.9" font-size="4.8" fill="#444" text-anchor="start" >wicBr01</text>
<circle cx="556.0" cy="885.0" r="2.8" fill="#a030f0" stroke="#6010b8" stroke-width="1.0"/>
<text x="558.2" y="882.8" font-size="4.6" fill="#444" text-anchor="start" >C01a</text>
<text x="553.8" y="891.2" font-size="4.6" fill="#444" text-anchor="end" >7.17</text>
<text x="577.0" y="887.0" font-size="4.8" fill="#444" text-anchor="start" >bathroomBr01</text>
<circle cx="556.0" cy="902.0" r="2.8" fill="#a030f0" stroke="#6010b8" stroke-width="1.0"/>
<text x="558.2" y="899.9" font-size="4.6" fill="#444" text-anchor="start" >C02a</text>
<text x="553.8" y="908.2" font-size="4.6" fill="#444" text-anchor="end" >5.61</text>
<text x="577.0" y="904.0" font-size="4.8" fill="#444" text-anchor="start" >bathroomBr02</text>
<circle cx="556.0" cy="919.1" r="2.5" fill="#f0b0f4" stroke="#6010b8" stroke-width="1.1"/>
<text x="558.0" y="917.1" font-size="4.6" fill="#444" text-anchor="start" >C03a</text>
<text x="554.0" y="925.1" font-size="4.6" fill="#444" text-anchor="end" >5.65</text>
<text x="577.0" y="921.1" font-size="4.8" fill="#444" text-anchor="start" >bathroomBr03</text>
<circle cx="556.0" cy="936.2" r="2.5" fill="#f0b0f4" stroke="#6010b8" stroke-width="1.1"/>
<text x="558.0" y="934.2" font-size="4.6" fill="#444" text-anchor="start" >C04a</text>
<text x="554.0" y="942.2" font-size="4.6" fill="#444" text-anchor="end" >4.51</text>
<text x="577.0" y="938.2" font-size="4.8" fill="#444" text-anchor="start" >toilet</text>
<circle cx="556.0" cy="953.3" r="5" fill="#44e8fc" stroke="#1818a0" stroke-width="1.3"/>
<text x="559.5" y="949.8" font-size="4.6" fill="#444" text-anchor="start" >D01a</text>
<text x="552.5" y="960.8" font-size="4.6" fill="#444" text-anchor="end" >4.7</text>
<text x="577.0" y="955.3" font-size="4.8" fill="#444" text-anchor="start" >living01</text>
<circle cx="556.0" cy="970.3" r="5" fill="#44e8fc" stroke="#1818a0" stroke-width="1.3"/>
<text x="559.5" y="966.8" font-size="4.6" fill="#444" text-anchor="start" >D01b</text>
<text x="552.5" y="977.8" font-size="4.6" fill="#444" text-anchor="end" >4</text>
<text x="577.0" y="972.3" font-size="4.8" fill="#444" text-anchor="start" >living02</text>
<circle cx="556.0" cy="987.4" r="2.8" fill="#44e8fc" stroke="#1818a0" stroke-width="1.3"/>
<text x="558.2" y="985.2" font-size="4.6" fill="#444" text-anchor="start" >D02a</text>
<text x="553.8" y="993.6" font-size="4.6" fill="#444" text-anchor="end" >4.39</text>
<text x="577.0" y="989.4" font-size="4.8" fill="#444" text-anchor="start" >sitting</text>
<circle cx="556.0" cy="1004.5" r="8.5" fill="#72ee6a" stroke="#182890" stroke-width="1.5"/>
<text x="561.6" y="998.9" font-size="4.6" fill="#444" text-anchor="start" >D03a</text>
<text x="550.4" y="1014.1" font-size="4.6" fill="#444" text-anchor="end" >3.26</text>
<text x="577.0" y="1006.5" font-size="4.8" fill="#444" text-anchor="start" >courtyardA</text>
<circle cx="556.0" cy="1021.5" r="2.8" fill="#66cc88" stroke="#182890" stroke-width="1.2"/>
<text x="558.2" y="1019.4" font-size="4.6" fill="#444" text-anchor="start" >D03b</text>
<text x="553.8" y="1027.7" font-size="4.6" fill="#444" text-anchor="end" >4.22</text>
<text x="577.0" y="1023.5" font-size="4.8" fill="#444" text-anchor="start" >courtyardB</text>
<circle cx="556.0" cy="1038.6" r="3" fill="#e0b040" stroke="#603a10" stroke-width="1.1"/>
<text x="558.3" y="1036.3" font-size="4.6" fill="#444" text-anchor="start" >E01a</text>
<text x="553.7" y="1044.9" font-size="4.6" fill="#444" text-anchor="end" >5.65</text>
<text x="577.0" y="1040.6" font-size="4.8" fill="#444" text-anchor="start" >garage</text>
<rect x="534.2" y="649.0" width="3.5" height="117" fill="#f2e414"/>
<text x="530.0" y="652.0" font-size="4.8" fill="#444" text-anchor="end" >circulation</text>
<rect x="534.2" y="786.0" width="3.5" height="82" fill="#a80c12"/>
<text x="530.0" y="789.0" font-size="4.8" fill="#444" text-anchor="end" >bedrooms</text>
<rect x="534.2" y="888.0" width="3.5" height="48" fill="#5c10c0"/>
<text x="530.0" y="891.0" font-size="4.8" fill="#444" text-anchor="end" >bathrooms</text>
<rect x="534.2" y="957.0" width="3.5" height="65" fill="#1010a8"/>
<text x="530.0" y="961.0" font-size="4.8" fill="#444" text-anchor="end" >living areas</text>
<rect x="534.5" y="1039.5" width="3" height="3" fill="#5a2808"/>
<text x="530.0" y="1045.0" font-size="4.8" fill="#444" text-anchor="end" >garage</text>
<circle cx="688.8" cy="646.0" r="4" fill="#fbfbd6" stroke="#dee43a" stroke-width="1.5"/>
<text x="691.7" y="643.1" font-size="4.6" fill="#444" text-anchor="start" >A01a</text>
<text x="685.9" y="652.9" font-size="4.6" fill="#444" text-anchor="end" >2.87</text>
<text x="672.0" y="648.0" font-size="4.8" fill="#444" text-anchor="end" >entrance</text>
<circle cx="688.8" cy="663.1" r="4" fill="#fbfbd6" stroke="#dee43a" stroke-width="1.5"/>
<text x="691.7" y="660.2" font-size="4.6" fill="#444" text-anchor="start" >A01b</text>
<text x="685.9" y="670.0" font-size="4.6" fill="#444" text-anchor="end" >3.13</text>
<text x="672.0" y="665.1" font-size="4.8" fill="#444" text-anchor="end" >entrance</text>
<circle cx="688.8" cy="680.1" r="5.5" fill="#f2f230" stroke="#dede30" stroke-width="1.0"/>
<text x="692.6" y="676.3" font-size="4.6" fill="#444" text-anchor="start" >A02a</text>
<text x="685.0" y="687.9" font-size="4.6" fill="#444" text-anchor="end" >3.53</text>
<text x="672.0" y="682.1" font-size="4.8" fill="#444" text-anchor="end" >lobbyA</text>
<circle cx="688.8" cy="697.2" r="5.5" fill="#fbfbd6" stroke="#dee43a" stroke-width="1.5"/>
<text x="692.6" y="693.4" font-size="4.6" fill="#444" text-anchor="start" >A03a</text>
<text x="685.0" y="705.0" font-size="4.6" fill="#444" text-anchor="end" >2.73</text>
<text x="672.0" y="699.2" font-size="4.8" fill="#444" text-anchor="end" >passageA</text>
<circle cx="688.8" cy="714.3" r="8.5" fill="#fbfbd6" stroke="#dee43a" stroke-width="1.5"/>
<text x="694.4" y="708.7" font-size="4.6" fill="#444" text-anchor="start" >A03b</text>
<text x="683.2" y="723.9" font-size="4.6" fill="#444" text-anchor="end" >2.87</text>
<text x="672.0" y="716.3" font-size="4.8" fill="#444" text-anchor="end" >passageB</text>
<circle cx="688.8" cy="731.4" r="4" fill="#f8b078" stroke="#b01a10" stroke-width="1.1"/>
<text x="691.7" y="728.5" font-size="4.6" fill="#444" text-anchor="start" >B01a</text>
<text x="685.9" y="738.2" font-size="4.6" fill="#444" text-anchor="end" >3.67</text>
<text x="672.0" y="733.4" font-size="4.8" fill="#444" text-anchor="end" >bedroom01A</text>
<circle cx="688.8" cy="748.4" r="4" fill="#f2702e" stroke="#a81a10" stroke-width="1.1"/>
<text x="691.7" y="745.5" font-size="4.6" fill="#444" text-anchor="start" >B02a</text>
<text x="685.9" y="755.3" font-size="4.6" fill="#444" text-anchor="end" >3.67</text>
<text x="672.0" y="750.4" font-size="4.8" fill="#444" text-anchor="end" >bedroom02A</text>
<circle cx="688.8" cy="765.5" r="2.8" fill="#f2702e" stroke="#a81a10" stroke-width="1.1"/>
<text x="691.0" y="763.3" font-size="4.6" fill="#444" text-anchor="start" >B02b</text>
<text x="686.6" y="771.7" font-size="4.6" fill="#444" text-anchor="end" >4.6</text>
<text x="672.0" y="767.5" font-size="4.8" fill="#444" text-anchor="end" >bedroom02B</text>
<circle cx="688.8" cy="782.6" r="2.8" fill="#f2702e" stroke="#a81a10" stroke-width="1.1"/>
<text x="691.0" y="780.4" font-size="4.6" fill="#444" text-anchor="start" >B03a</text>
<text x="686.6" y="788.7" font-size="4.6" fill="#444" text-anchor="end" >3.8</text>
<text x="672.0" y="784.6" font-size="4.8" fill="#444" text-anchor="end" >bedoom03</text>
<circle cx="688.8" cy="799.6" r="2.8" fill="#a030f0" stroke="#6010b8" stroke-width="1.0"/>
<text x="691.0" y="797.5" font-size="4.6" fill="#444" text-anchor="start" >C01a</text>
<text x="686.6" y="805.8" font-size="4.6" fill="#444" text-anchor="end" >4.6</text>
<text x="672.0" y="801.6" font-size="4.8" fill="#444" text-anchor="end" >bathroomBr01</text>
<circle cx="688.8" cy="816.7" r="2.8" fill="#a030f0" stroke="#6010b8" stroke-width="1.0"/>
<text x="691.0" y="814.5" font-size="4.6" fill="#444" text-anchor="start" >C02a</text>
<text x="686.6" y="822.9" font-size="4.6" fill="#444" text-anchor="end" >3.8</text>
<text x="672.0" y="818.7" font-size="4.8" fill="#444" text-anchor="end" >bathroomBrS</text>
<circle cx="688.8" cy="833.8" r="2.8" fill="#f0b0f4" stroke="#6010b8" stroke-width="1.1"/>
<text x="691.0" y="831.6" font-size="4.6" fill="#444" text-anchor="start" >C03a</text>
<text x="686.6" y="839.9" font-size="4.6" fill="#444" text-anchor="end" >3.67</text>
<text x="672.0" y="835.8" font-size="4.8" fill="#444" text-anchor="end" >toilet</text>
<circle cx="688.8" cy="850.8" r="2.8" fill="#5858f0" stroke="#1818a0" stroke-width="1.0"/>
<text x="691.0" y="848.7" font-size="4.6" fill="#444" text-anchor="start" >D01</text>
<text x="686.6" y="857.0" font-size="4.6" fill="#444" text-anchor="end" >4.47</text>
<text x="672.0" y="852.8" font-size="4.8" fill="#444" text-anchor="end" >Kitchen</text>
<circle cx="688.8" cy="867.9" r="4" fill="#44e8fc" stroke="#1818a0" stroke-width="1.3"/>
<text x="691.7" y="865.0" font-size="4.6" fill="#444" text-anchor="start" >D02a</text>
<text x="685.9" y="874.8" font-size="4.6" fill="#444" text-anchor="end" >4.2</text>
<text x="672.0" y="869.9" font-size="4.8" fill="#444" text-anchor="end" >living01</text>
<circle cx="688.8" cy="885.0" r="4" fill="#44e8fc" stroke="#1818a0" stroke-width="1.3"/>
<text x="691.7" y="882.1" font-size="4.6" fill="#444" text-anchor="start" >D02b</text>
<text x="685.9" y="891.9" font-size="4.6" fill="#444" text-anchor="end" >5</text>
<text x="672.0" y="887.0" font-size="4.8" fill="#444" text-anchor="end" >living02</text>
<circle cx="688.8" cy="902.0" r="3" fill="#e0b040" stroke="#603a10" stroke-width="1.1"/>
<text x="691.1" y="899.8" font-size="4.6" fill="#444" text-anchor="start" >E01a</text>
<text x="686.5" y="908.3" font-size="4.6" fill="#444" text-anchor="end" >5.93</text>
<text x="672.0" y="904.0" font-size="4.8" fill="#444" text-anchor="end" >garage</text>
<rect x="709.5" y="649.0" width="3.2" height="66.0" fill="#f2e414"/>
<text x="715.0" y="652.0" font-size="4.8" fill="#444" text-anchor="start" >circulation</text>
<rect x="709.5" y="734.5" width="3.2" height="48.5" fill="#a80c12"/>
<text x="715.0" y="738.0" font-size="4.8" fill="#444" text-anchor="start" >bedrooms</text>
<rect x="709.5" y="803.0" width="3.2" height="31.0" fill="#5c10c0"/>
<text x="715.0" y="806.0" font-size="4.8" fill="#444" text-anchor="start" >bathrooms</text>
<rect x="709.5" y="854.5" width="3.2" height="30.9" fill="#1010a8"/>
<text x="715.0" y="858.0" font-size="4.8" fill="#444" text-anchor="start" >living areas</text>
<rect x="709.5" y="902.3" width="3" height="3" fill="#5a2808"/>
<text x="723.0" y="909.0" font-size="4.8" fill="#444" text-anchor="start" >garage</text>
<circle cx="540.8" cy="1078.7" r="5" fill="#8a8a8a" stroke="#7a7a7a" stroke-width="0.8"/>
<text x="548.0" y="1080.7" font-size="4.8" fill="#444" text-anchor="start" >zone colour</text>
<circle cx="601.3" cy="1078.7" r="5.8" fill="#fff" stroke="#6a6a6a" stroke-width="1.9"/>
<text x="610.0" y="1081.2" font-size="4.8" fill="#444" text-anchor="start" >category colour</text>
<circle cx="690.0" cy="1078.7" r="5.5" fill="#fff" stroke="#a8a8a8" stroke-width="0.9"/>
<text x="695.0" y="1073.7" font-size="4.8" fill="#444" text-anchor="start" >zone code</text>
<text x="657.0" y="1087.7" font-size="4.8" fill="#444" text-anchor="start" >mean depths</text>
<text x="540.0" y="1107.0" font-size="5" fill="#444" text-anchor="start" >1</text>
<circle cx="545.8" cy="1105.0" r="2" fill="#fff" stroke="#a0a0a0" stroke-width="0.9"/>
<circle cx="564.6" cy="1105.0" r="2.8" fill="#fff" stroke="#a0a0a0" stroke-width="0.9"/>
<circle cx="583.5" cy="1105.0" r="3.4" fill="#fff" stroke="#a0a0a0" stroke-width="0.9"/>
<circle cx="602.3" cy="1105.0" r="4" fill="#fff" stroke="#a0a0a0" stroke-width="0.9"/>
<circle cx="621.0" cy="1105.0" r="4.8" fill="#fff" stroke="#a0a0a0" stroke-width="0.9"/>
<circle cx="640.0" cy="1105.0" r="5.8" fill="#fff" stroke="#a0a0a0" stroke-width="0.9"/>
<text x="648.0" y="1107.0" font-size="5" fill="#444" text-anchor="start" >6</text>
<text x="655.0" y="1107.0" font-size="4.8" fill="#444" text-anchor="start" >connectivity</text>
<circle cx="562.9" cy="1174.8" r="6.5" fill="#fbfbd6" stroke="#dee43a" stroke-width="1.5"/>
<text x="567.3" y="1170.4" font-size="4.6" fill="#444" text-anchor="start" >A01a</text>
<text x="558.5" y="1183.2" font-size="4.6" fill="#444" text-anchor="end" >3.43</text>
<text x="583.9" y="1176.8" font-size="4.8" fill="#444" text-anchor="start" >entrance</text>
<circle cx="562.9" cy="1191.9" r="6.5" fill="#f2f230" stroke="#dede30" stroke-width="1.0"/>
<text x="567.3" y="1187.5" font-size="4.6" fill="#444" text-anchor="start" >A02a</text>
<text x="558.5" y="1200.3" font-size="4.6" fill="#444" text-anchor="end" >3.83</text>
<text x="583.9" y="1193.9" font-size="4.8" fill="#444" text-anchor="start" >lobbyA</text>
<circle cx="562.9" cy="1208.9" r="6.5" fill="#f2f230" stroke="#dede30" stroke-width="1.0"/>
<text x="567.3" y="1204.5" font-size="4.6" fill="#444" text-anchor="start" >A02b</text>
<text x="558.5" y="1217.3" font-size="4.6" fill="#444" text-anchor="end" >3.87</text>
<text x="583.9" y="1210.9" font-size="4.8" fill="#444" text-anchor="start" >lobbyB</text>
<circle cx="562.9" cy="1226.0" r="6.5" fill="#fbfbd6" stroke="#dee43a" stroke-width="1.5"/>
<text x="567.3" y="1221.6" font-size="4.6" fill="#444" text-anchor="start" >A03a</text>
<text x="558.5" y="1234.4" font-size="4.6" fill="#444" text-anchor="end" >3.09</text>
<text x="583.9" y="1228.0" font-size="4.8" fill="#444" text-anchor="start" >passageA</text>
<circle cx="562.9" cy="1243.1" r="4" fill="#fbfbd6" stroke="#dee43a" stroke-width="1.5"/>
<text x="565.8" y="1240.2" font-size="4.6" fill="#444" text-anchor="start" >A03b</text>
<text x="560.0" y="1250.0" font-size="4.6" fill="#444" text-anchor="end" >3.26</text>
<text x="583.9" y="1245.1" font-size="4.8" fill="#444" text-anchor="start" >passageB</text>
<circle cx="562.9" cy="1260.1" r="4" fill="#fbfbd6" stroke="#dee43a" stroke-width="1.5"/>
<text x="565.8" y="1257.2" font-size="4.6" fill="#444" text-anchor="start" >A03c</text>
<text x="560.0" y="1267.0" font-size="4.6" fill="#444" text-anchor="end" >3.52</text>
<text x="583.9" y="1262.1" font-size="4.8" fill="#444" text-anchor="start" >passageC</text>
<circle cx="562.9" cy="1277.2" r="5" fill="#fbfbd6" stroke="#dee43a" stroke-width="1.5"/>
<text x="566.4" y="1273.7" font-size="4.6" fill="#444" text-anchor="start" >A03d</text>
<text x="559.4" y="1284.7" font-size="4.6" fill="#444" text-anchor="end" >3.87</text>
<text x="583.9" y="1279.2" font-size="4.8" fill="#444" text-anchor="start" >passageD</text>
<circle cx="562.9" cy="1294.3" r="4" fill="#f0d02c" stroke="#e8c430" stroke-width="1.0"/>
<text x="565.8" y="1291.4" font-size="4.6" fill="#444" text-anchor="start" >A04a</text>
<text x="560.0" y="1301.2" font-size="4.6" fill="#444" text-anchor="end" >3.96</text>
<text x="583.9" y="1296.3" font-size="4.8" fill="#444" text-anchor="start" >cloak</text>
<circle cx="562.9" cy="1311.4" r="3.8" fill="#f8b078" stroke="#b01a10" stroke-width="1.1"/>
<text x="565.7" y="1308.6" font-size="4.6" fill="#444" text-anchor="start" >B01a</text>
<text x="560.1" y="1318.1" font-size="4.6" fill="#444" text-anchor="end" >5.35</text>
<text x="583.9" y="1313.4" font-size="4.8" fill="#444" text-anchor="start" >bedroom01A</text>
<circle cx="562.9" cy="1328.4" r="3.8" fill="#f8b078" stroke="#b01a10" stroke-width="1.1"/>
<text x="565.7" y="1325.6" font-size="4.6" fill="#444" text-anchor="start" >B01b</text>
<text x="560.1" y="1335.2" font-size="4.6" fill="#444" text-anchor="end" >4.57</text>
<text x="583.9" y="1330.4" font-size="4.8" fill="#444" text-anchor="start" >bedroom01B</text>
<circle cx="562.9" cy="1345.5" r="5" fill="#f2702e" stroke="#a81a10" stroke-width="1.1"/>
<text x="566.4" y="1342.0" font-size="4.6" fill="#444" text-anchor="start" >B02a</text>
<text x="559.4" y="1353.0" font-size="4.6" fill="#444" text-anchor="end" >4.65</text>
<text x="583.9" y="1347.5" font-size="4.8" fill="#444" text-anchor="start" >bedroom02A</text>
<circle cx="562.9" cy="1362.6" r="2.8" fill="#f2702e" stroke="#a81a10" stroke-width="1.1"/>
<text x="565.1" y="1360.4" font-size="4.6" fill="#444" text-anchor="start" >B02b</text>
<text x="560.7" y="1368.8" font-size="4.6" fill="#444" text-anchor="end" >5.61</text>
<text x="583.9" y="1364.6" font-size="4.8" fill="#444" text-anchor="start" >bedroom02B</text>
<circle cx="562.9" cy="1379.6" r="3.8" fill="#f2702e" stroke="#a81a10" stroke-width="1.1"/>
<text x="565.7" y="1376.9" font-size="4.6" fill="#444" text-anchor="start" >B03a</text>
<text x="560.1" y="1386.4" font-size="4.6" fill="#444" text-anchor="end" >4.7</text>
<text x="583.9" y="1381.6" font-size="4.8" fill="#444" text-anchor="start" >bedroom03</text>
<circle cx="562.9" cy="1396.7" r="3.5" fill="#f8b078" stroke="#b01a10" stroke-width="1.1"/>
<text x="565.5" y="1394.1" font-size="4.6" fill="#444" text-anchor="start" >B04a</text>
<text x="560.3" y="1403.3" font-size="4.6" fill="#444" text-anchor="end" >6.22</text>
<text x="583.9" y="1398.7" font-size="4.8" fill="#444" text-anchor="start" >wicBr01</text>
<circle cx="562.9" cy="1413.8" r="2.8" fill="#a030f0" stroke="#6010b8" stroke-width="1.0"/>
<text x="565.1" y="1411.6" font-size="4.6" fill="#444" text-anchor="start" >C01a</text>
<text x="560.7" y="1420.0" font-size="4.6" fill="#444" text-anchor="end" >7.17</text>
<text x="583.9" y="1415.8" font-size="4.8" fill="#444" text-anchor="start" >bathroomBr01</text>
<circle cx="562.9" cy="1430.8" r="2.8" fill="#a030f0" stroke="#6010b8" stroke-width="1.0"/>
<text x="565.1" y="1428.7" font-size="4.6" fill="#444" text-anchor="start" >C02a</text>
<text x="560.7" y="1437.0" font-size="4.6" fill="#444" text-anchor="end" >5.61</text>
<text x="583.9" y="1432.8" font-size="4.8" fill="#444" text-anchor="start" >bathroomBr02</text>
<circle cx="562.9" cy="1447.9" r="2.5" fill="#f0b0f4" stroke="#6010b8" stroke-width="1.1"/>
<text x="564.9" y="1445.9" font-size="4.6" fill="#444" text-anchor="start" >C03a</text>
<text x="560.9" y="1453.9" font-size="4.6" fill="#444" text-anchor="end" >5.65</text>
<text x="583.9" y="1449.9" font-size="4.8" fill="#444" text-anchor="start" >bathroomBr03</text>
<circle cx="562.9" cy="1465.0" r="2.5" fill="#f0b0f4" stroke="#6010b8" stroke-width="1.1"/>
<text x="564.9" y="1463.0" font-size="4.6" fill="#444" text-anchor="start" >C04a</text>
<text x="560.9" y="1471.0" font-size="4.6" fill="#444" text-anchor="end" >4.51</text>
<text x="583.9" y="1467.0" font-size="4.8" fill="#444" text-anchor="start" >toilet</text>
<circle cx="562.9" cy="1482.1" r="5" fill="#44e8fc" stroke="#1818a0" stroke-width="1.3"/>
<text x="566.4" y="1478.6" font-size="4.6" fill="#444" text-anchor="start" >D01a</text>
<text x="559.4" y="1489.6" font-size="4.6" fill="#444" text-anchor="end" >4.7</text>
<text x="583.9" y="1484.1" font-size="4.8" fill="#444" text-anchor="start" >living01</text>
<circle cx="562.9" cy="1499.1" r="5" fill="#44e8fc" stroke="#1818a0" stroke-width="1.3"/>
<text x="566.4" y="1495.6" font-size="4.6" fill="#444" text-anchor="start" >D01b</text>
<text x="559.4" y="1506.6" font-size="4.6" fill="#444" text-anchor="end" >4</text>
<text x="583.9" y="1501.1" font-size="4.8" fill="#444" text-anchor="start" >living02</text>
<circle cx="562.9" cy="1516.2" r="2.8" fill="#44e8fc" stroke="#1818a0" stroke-width="1.3"/>
<text x="565.1" y="1514.0" font-size="4.6" fill="#444" text-anchor="start" >D02a</text>
<text x="560.7" y="1522.4" font-size="4.6" fill="#444" text-anchor="end" >4.39</text>
<text x="583.9" y="1518.2" font-size="4.8" fill="#444" text-anchor="start" >sitting</text>
<circle cx="562.9" cy="1533.3" r="8.5" fill="#72ee6a" stroke="#182890" stroke-width="1.5"/>
<text x="568.5" y="1527.7" font-size="4.6" fill="#444" text-anchor="start" >D03a</text>
<text x="557.3" y="1542.9" font-size="4.6" fill="#444" text-anchor="end" >3.26</text>
<text x="583.9" y="1535.3" font-size="4.8" fill="#444" text-anchor="start" >courtyardA</text>
<circle cx="562.9" cy="1550.3" r="2.8" fill="#66cc88" stroke="#182890" stroke-width="1.2"/>
<text x="565.1" y="1548.2" font-size="4.6" fill="#444" text-anchor="start" >D03b</text>
<text x="560.7" y="1556.5" font-size="4.6" fill="#444" text-anchor="end" >4.22</text>
<text x="583.9" y="1552.3" font-size="4.8" fill="#444" text-anchor="start" >courtyardB</text>
<circle cx="562.9" cy="1567.4" r="3" fill="#e0b040" stroke="#603a10" stroke-width="1.1"/>
<text x="565.2" y="1565.1" font-size="4.6" fill="#444" text-anchor="start" >E01a</text>
<text x="560.6" y="1573.7" font-size="4.6" fill="#444" text-anchor="end" >5.65</text>
<text x="583.9" y="1569.4" font-size="4.8" fill="#444" text-anchor="start" >garage</text>
<rect x="541.1" y="1177.8" width="3.5" height="117" fill="#f2e414"/>
<text x="536.9" y="1180.8" font-size="4.8" fill="#444" text-anchor="end" >circulation</text>
<rect x="541.1" y="1314.8" width="3.5" height="82" fill="#a80c12"/>
<text x="536.9" y="1317.8" font-size="4.8" fill="#444" text-anchor="end" >bedrooms</text>
<rect x="541.1" y="1416.8" width="3.5" height="48" fill="#5c10c0"/>
<text x="536.9" y="1419.8" font-size="4.8" fill="#444" text-anchor="end" >bathrooms</text>
<rect x="541.1" y="1485.8" width="3.5" height="65" fill="#1010a8"/>
<text x="536.9" y="1489.8" font-size="4.8" fill="#444" text-anchor="end" >living areas</text>
<rect x="541.4" y="1568.3" width="3" height="3" fill="#5a2808"/>
<text x="536.9" y="1573.8" font-size="4.8" fill="#444" text-anchor="end" >garage</text>
<circle cx="695.7" cy="1174.8" r="4" fill="#fbfbd6" stroke="#dee43a" stroke-width="1.5"/>
<text x="698.6" y="1171.9" font-size="4.6" fill="#444" text-anchor="start" >A01a</text>
<text x="692.8" y="1181.7" font-size="4.6" fill="#444" text-anchor="end" >2.87</text>
<text x="678.9" y="1176.8" font-size="4.8" fill="#444" text-anchor="end" >entrance</text>
<circle cx="695.7" cy="1191.9" r="4" fill="#fbfbd6" stroke="#dee43a" stroke-width="1.5"/>
<text x="698.6" y="1189.0" font-size="4.6" fill="#444" text-anchor="start" >A01b</text>
<text x="692.8" y="1198.8" font-size="4.6" fill="#444" text-anchor="end" >3.13</text>
<text x="678.9" y="1193.9" font-size="4.8" fill="#444" text-anchor="end" >entrance</text>
<circle cx="695.7" cy="1208.9" r="5.5" fill="#f2f230" stroke="#dede30" stroke-width="1.0"/>
<text x="699.5" y="1205.1" font-size="4.6" fill="#444" text-anchor="start" >A02a</text>
<text x="691.9" y="1216.7" font-size="4.6" fill="#444" text-anchor="end" >3.53</text>
<text x="678.9" y="1210.9" font-size="4.8" fill="#444" text-anchor="end" >lobbyA</text>
<circle cx="695.7" cy="1226.0" r="5.5" fill="#fbfbd6" stroke="#dee43a" stroke-width="1.5"/>
<text x="699.5" y="1222.2" font-size="4.6" fill="#444" text-anchor="start" >A03a</text>
<text x="691.9" y="1233.8" font-size="4.6" fill="#444" text-anchor="end" >2.73</text>
<text x="678.9" y="1228.0" font-size="4.8" fill="#444" text-anchor="end" >passageA</text>
<circle cx="695.7" cy="1243.1" r="8.5" fill="#fbfbd6" stroke="#dee43a" stroke-width="1.5"/>
<text x="701.3" y="1237.5" font-size="4.6" fill="#444" text-anchor="start" >A03b</text>
<text x="690.1" y="1252.7" font-size="4.6" fill="#444" text-anchor="end" >2.87</text>
<text x="678.9" y="1245.1" font-size="4.8" fill="#444" text-anchor="end" >passageB</text>
<circle cx="695.7" cy="1260.1" r="4" fill="#f8b078" stroke="#b01a10" stroke-width="1.1"/>
<text x="698.6" y="1257.2" font-size="4.6" fill="#444" text-anchor="start" >B01a</text>
<text x="692.8" y="1267.0" font-size="4.6" fill="#444" text-anchor="end" >3.67</text>
<text x="678.9" y="1262.1" font-size="4.8" fill="#444" text-anchor="end" >bedroom01A</text>
<circle cx="695.7" cy="1277.2" r="4" fill="#f2702e" stroke="#a81a10" stroke-width="1.1"/>
<text x="698.6" y="1274.3" font-size="4.6" fill="#444" text-anchor="start" >B02a</text>
<text x="692.8" y="1284.1" font-size="4.6" fill="#444" text-anchor="end" >3.67</text>
<text x="678.9" y="1279.2" font-size="4.8" fill="#444" text-anchor="end" >bedroom02A</text>
<circle cx="695.7" cy="1294.3" r="2.8" fill="#f2702e" stroke="#a81a10" stroke-width="1.1"/>
<text x="697.9" y="1292.1" font-size="4.6" fill="#444" text-anchor="start" >B02b</text>
<text x="693.5" y="1300.5" font-size="4.6" fill="#444" text-anchor="end" >4.6</text>
<text x="678.9" y="1296.3" font-size="4.8" fill="#444" text-anchor="end" >bedroom02B</text>
<circle cx="695.7" cy="1311.4" r="2.8" fill="#f2702e" stroke="#a81a10" stroke-width="1.1"/>
<text x="697.9" y="1309.2" font-size="4.6" fill="#444" text-anchor="start" >B03a</text>
<text x="693.5" y="1317.5" font-size="4.6" fill="#444" text-anchor="end" >3.8</text>
<text x="678.9" y="1313.4" font-size="4.8" fill="#444" text-anchor="end" >bedoom03</text>
<circle cx="695.7" cy="1328.4" r="2.8" fill="#a030f0" stroke="#6010b8" stroke-width="1.0"/>
<text x="697.9" y="1326.2" font-size="4.6" fill="#444" text-anchor="start" >C01a</text>
<text x="693.5" y="1334.6" font-size="4.6" fill="#444" text-anchor="end" >4.6</text>
<text x="678.9" y="1330.4" font-size="4.8" fill="#444" text-anchor="end" >bathroomBr01</text>
<circle cx="695.7" cy="1345.5" r="2.8" fill="#a030f0" stroke="#6010b8" stroke-width="1.0"/>
<text x="697.9" y="1343.3" font-size="4.6" fill="#444" text-anchor="start" >C02a</text>
<text x="693.5" y="1351.7" font-size="4.6" fill="#444" text-anchor="end" >3.8</text>
<text x="678.9" y="1347.5" font-size="4.8" fill="#444" text-anchor="end" >bathroomBrS</text>
<circle cx="695.7" cy="1362.6" r="2.8" fill="#f0b0f4" stroke="#6010b8" stroke-width="1.1"/>
<text x="697.9" y="1360.4" font-size="4.6" fill="#444" text-anchor="start" >C03a</text>
<text x="693.5" y="1368.8" font-size="4.6" fill="#444" text-anchor="end" >3.67</text>
<text x="678.9" y="1364.6" font-size="4.8" fill="#444" text-anchor="end" >toilet</text>
<circle cx="695.7" cy="1379.6" r="2.8" fill="#5858f0" stroke="#1818a0" stroke-width="1.0"/>
<text x="697.9" y="1377.5" font-size="4.6" fill="#444" text-anchor="start" >D01</text>
<text x="693.5" y="1385.8" font-size="4.6" fill="#444" text-anchor="end" >4.47</text>
<text x="678.9" y="1381.6" font-size="4.8" fill="#444" text-anchor="end" >Kitchen</text>
<circle cx="695.7" cy="1396.7" r="4" fill="#44e8fc" stroke="#1818a0" stroke-width="1.3"/>
<text x="698.6" y="1393.8" font-size="4.6" fill="#444" text-anchor="start" >D02a</text>
<text x="692.8" y="1403.6" font-size="4.6" fill="#444" text-anchor="end" >4.2</text>
<text x="678.9" y="1398.7" font-size="4.8" fill="#444" text-anchor="end" >living01</text>
<circle cx="695.7" cy="1413.8" r="4" fill="#44e8fc" stroke="#1818a0" stroke-width="1.3"/>
<text x="698.6" y="1410.9" font-size="4.6" fill="#444" text-anchor="start" >D02b</text>
<text x="692.8" y="1420.7" font-size="4.6" fill="#444" text-anchor="end" >5</text>
<text x="678.9" y="1415.8" font-size="4.8" fill="#444" text-anchor="end" >living02</text>
<circle cx="695.7" cy="1430.8" r="3" fill="#e0b040" stroke="#603a10" stroke-width="1.1"/>
<text x="698.0" y="1428.5" font-size="4.6" fill="#444" text-anchor="start" >E01a</text>
<text x="693.4" y="1437.1" font-size="4.6" fill="#444" text-anchor="end" >5.93</text>
<text x="678.9" y="1432.8" font-size="4.8" fill="#444" text-anchor="end" >garage</text>
<rect x="716.4" y="1177.8" width="3.2" height="66.0" fill="#f2e414"/>
<text x="721.9" y="1180.8" font-size="4.8" fill="#444" text-anchor="start" >circulation</text>
<rect x="716.4" y="1263.3" width="3.2" height="48.5" fill="#a80c12"/>
<text x="721.9" y="1266.8" font-size="4.8" fill="#444" text-anchor="start" >bedrooms</text>
<rect x="716.4" y="1331.8" width="3.2" height="31.0" fill="#5c10c0"/>
<text x="721.9" y="1334.8" font-size="4.8" fill="#444" text-anchor="start" >bathrooms</text>
<rect x="716.4" y="1383.3" width="3.2" height="30.9" fill="#1010a8"/>
<text x="721.9" y="1386.8" font-size="4.8" fill="#444" text-anchor="start" >living areas</text>
<rect x="716.4" y="1431.1" width="3" height="3" fill="#5a2808"/>
<text x="729.9" y="1437.8" font-size="4.8" fill="#444" text-anchor="start" >garage</text>
<circle cx="547.7" cy="1607.5" r="5" fill="#8a8a8a" stroke="#7a7a7a" stroke-width="0.8"/>
<text x="554.9" y="1609.5" font-size="4.8" fill="#444" text-anchor="start" >zone colour</text>
<circle cx="608.2" cy="1607.5" r="5.8" fill="#fff" stroke="#6a6a6a" stroke-width="1.9"/>
<text x="616.9" y="1610.0" font-size="4.8" fill="#444" text-anchor="start" >category colour</text>
<circle cx="696.9" cy="1607.5" r="5.5" fill="#fff" stroke="#a8a8a8" stroke-width="0.9"/>
<text x="701.9" y="1602.5" font-size="4.8" fill="#444" text-anchor="start" >zone code</text>
<text x="663.9" y="1616.5" font-size="4.8" fill="#444" text-anchor="start" >mean depths</text>
<text x="546.9" y="1635.8" font-size="5" fill="#444" text-anchor="start" >1</text>
<circle cx="552.7" cy="1633.8" r="2" fill="#fff" stroke="#a0a0a0" stroke-width="0.9"/>
<circle cx="571.5" cy="1633.8" r="2.8" fill="#fff" stroke="#a0a0a0" stroke-width="0.9"/>
<circle cx="590.4" cy="1633.8" r="3.4" fill="#fff" stroke="#a0a0a0" stroke-width="0.9"/>
<circle cx="609.2" cy="1633.8" r="4" fill="#fff" stroke="#a0a0a0" stroke-width="0.9"/>
<circle cx="627.9" cy="1633.8" r="4.8" fill="#fff" stroke="#a0a0a0" stroke-width="0.9"/>
<circle cx="646.9" cy="1633.8" r="5.8" fill="#fff" stroke="#a0a0a0" stroke-width="0.9"/>
<text x="654.9" y="1635.8" font-size="5" fill="#444" text-anchor="start" >6</text>
<text x="661.9" y="1635.8" font-size="4.8" fill="#444" text-anchor="start" >connectivity</text>
<text x="199.0" y="1189.2" font-size="5" fill="#666" text-anchor="end" >8</text>
<text x="485.0" y="1189.2" font-size="5" fill="#666" text-anchor="start" >8</text>
<text x="199.0" y="1236.7" font-size="5" fill="#666" text-anchor="end" >7</text>
<text x="485.0" y="1236.7" font-size="5" fill="#666" text-anchor="start" >7</text>
<text x="199.0" y="1284.2" font-size="5" fill="#666" text-anchor="end" >5</text>
<text x="485.0" y="1284.2" font-size="5" fill="#666" text-anchor="start" >5</text>
<text x="199.0" y="1331.7" font-size="5" fill="#666" text-anchor="end" >6</text>
<text x="485.0" y="1331.7" font-size="5" fill="#666" text-anchor="start" >6</text>
<text x="199.0" y="1379.2" font-size="5" fill="#666" text-anchor="end" >4</text>
<text x="485.0" y="1379.2" font-size="5" fill="#666" text-anchor="start" >4</text>
<text x="199.0" y="1426.7" font-size="5" fill="#666" text-anchor="end" >3</text>
<text x="485.0" y="1426.7" font-size="5" fill="#666" text-anchor="start" >3</text>
<text x="199.0" y="1474.2" font-size="5" fill="#666" text-anchor="end" >2</text>
<text x="485.0" y="1474.2" font-size="5" fill="#666" text-anchor="start" >2</text>
<text x="199.0" y="1521.7" font-size="5" fill="#666" text-anchor="end" >1</text>
<text x="485.0" y="1521.7" font-size="5" fill="#666" text-anchor="start" >1</text>
<text x="199.0" y="1569.2" font-size="5" fill="#666" text-anchor="end" >0</text>
<text x="485.0" y="1569.2" font-size="5" fill="#666" text-anchor="start" >0</text>
<path d="M201 1187.2H481M201 1234.7H481M201 1282.2H481M201 1329.7H481M201 1377.2H481M201 1424.7H481M201 1472.2H481M201 1519.7H481M201 1567.2H481" stroke="#e2e2e2" stroke-width="0.9" fill="none"/>
<text x="780.0" y="1332.0" font-size="5" fill="#666" text-anchor="end" >5</text>
<text x="1065.0" y="1332.0" font-size="5" fill="#666" text-anchor="start" >5</text>
<text x="780.0" y="1379.5" font-size="5" fill="#666" text-anchor="end" >4</text>
<text x="1065.0" y="1379.5" font-size="5" fill="#666" text-anchor="start" >4</text>
<text x="780.0" y="1427.0" font-size="5" fill="#666" text-anchor="end" >3</text>
<text x="1065.0" y="1427.0" font-size="5" fill="#666" text-anchor="start" >3</text>
<text x="780.0" y="1474.5" font-size="5" fill="#666" text-anchor="end" >2</text>
<text x="1065.0" y="1474.5" font-size="5" fill="#666" text-anchor="start" >2</text>
<text x="780.0" y="1522.0" font-size="5" fill="#666" text-anchor="end" >1</text>
<text x="1065.0" y="1522.0" font-size="5" fill="#666" text-anchor="start" >1</text>
<text x="780.0" y="1569.5" font-size="5" fill="#666" text-anchor="end" >0</text>
<text x="1065.0" y="1569.5" font-size="5" fill="#666" text-anchor="start" >0</text>
<path d="M782 1330.0H1064M782 1377.5H1064M782 1425.0H1064M782 1472.5H1064M782 1520.0H1064M782 1567.5H1064" stroke="#e2e2e2" stroke-width="0.9" fill="none"/>
<circle cx="355.5" cy="1187.2" r="3" fill="#a030f0" stroke="#6010b8" stroke-width="1.0"/>
<circle cx="355.5" cy="1234.7" r="4" fill="#f8b078" stroke="#b01a10" stroke-width="1.1"/>
<circle cx="355.5" cy="1282.2" r="4" fill="#f8b078" stroke="#b01a10" stroke-width="1.1"/>
<circle cx="369.9" cy="1282.2" r="2.8" fill="#f2702e" stroke="#a81a10" stroke-width="1.1"/>
<circle cx="397.9" cy="1282.2" r="2.8" fill="#a030f0" stroke="#6010b8" stroke-width="1.0"/>
<circle cx="355.5" cy="1329.7" r="4" fill="#f8b078" stroke="#b01a10" stroke-width="1.1"/>
<circle cx="384.0" cy="1329.7" r="5" fill="#f2702e" stroke="#a81a10" stroke-width="1.1"/>
<circle cx="369.3" cy="1377.2" r="5.5" fill="#fbfbd6" stroke="#dee43a" stroke-width="1.5"/>
<circle cx="265.9" cy="1377.2" r="2.8" fill="#e0b040" stroke="#603a10" stroke-width="1.1"/>
<circle cx="265.9" cy="1424.7" r="5" fill="#44e8fc" stroke="#1818a0" stroke-width="1.3"/>
<circle cx="213.3" cy="1424.7" r="2.8" fill="#f0b0f4" stroke="#6010b8" stroke-width="1.1"/>
<circle cx="369.9" cy="1424.7" r="4" fill="#fbfbd6" stroke="#dee43a" stroke-width="1.5"/>
<circle cx="404.0" cy="1424.7" r="2.8" fill="#f0b0f4" stroke="#6010b8" stroke-width="1.1"/>
<circle cx="265.9" cy="1472.2" r="6.5" fill="#f2f230" stroke="#dede30" stroke-width="1.0"/>
<circle cx="213.3" cy="1472.2" r="4" fill="#f2702e" stroke="#a81a10" stroke-width="1.1"/>
<circle cx="300.0" cy="1472.2" r="5" fill="#44e8fc" stroke="#1818a0" stroke-width="1.3"/>
<circle cx="333.9" cy="1472.2" r="2.5" fill="#66cc88" stroke="#182890" stroke-width="1.2"/>
<circle cx="369.9" cy="1472.2" r="4" fill="#fbfbd6" stroke="#dee43a" stroke-width="1.5"/>
<circle cx="404.0" cy="1472.2" r="4" fill="#f0d02c" stroke="#e8c430" stroke-width="1.0"/>
<circle cx="213.3" cy="1519.7" r="6.5" fill="#f2f230" stroke="#dede30" stroke-width="1.0"/>
<circle cx="300.0" cy="1519.7" r="8.5" fill="#72ee6a" stroke="#182890" stroke-width="1.5"/>
<circle cx="386.7" cy="1519.7" r="6.5" fill="#fbfbd6" stroke="#dee43a" stroke-width="1.5"/>
<circle cx="473.3" cy="1519.7" r="2.8" fill="#44e8fc" stroke="#1818a0" stroke-width="1.3"/>
<circle cx="343.2" cy="1567.2" r="6.5" fill="#fbfbd6" stroke="#dee43a" stroke-width="1.5"/>
<path d="M355.5 1187.2L355.5 1234.7M355.5 1234.7L355.5 1282.2M355.5 1282.2L355.5 1329.7M355.5 1329.7L369.3 1377.2M369.9 1282.2L384.0 1329.7M397.9 1282.2L384.0 1329.7M384.0 1329.7L369.3 1377.2M369.3 1377.2L369.9 1424.7M369.9 1424.7L369.9 1472.2M369.9 1472.2L386.7 1519.7M404.0 1472.2L386.7 1519.7M404.0 1424.7L404.0 1472.2M265.9 1377.2L265.9 1424.7M265.9 1424.7L265.9 1472.2M265.9 1472.2L300.0 1519.7M213.3 1424.7L213.3 1472.2M213.3 1472.2L213.3 1519.7M300.0 1472.2L300.0 1519.7M333.9 1472.2L300.0 1519.7M213.3 1519.7L343.2 1567.2M300.0 1519.7L343.2 1567.2M386.7 1519.7L343.2 1567.2M473.3 1519.7L343.2 1567.2" stroke="#8e8e8e" stroke-width="0.85" fill="none"/>
<text x="357.8" y="1184.9" font-size="4.6" fill="#3a3a3a" text-anchor="start" >C01a</text>
<text x="353.2" y="1193.5" font-size="4.6" fill="#3a3a3a" text-anchor="end" >5</text>
<text x="358.4" y="1231.8" font-size="4.6" fill="#3a3a3a" text-anchor="start" >B04a</text>
<text x="352.6" y="1241.6" font-size="4.6" fill="#3a3a3a" text-anchor="end" >4.2</text>
<text x="358.4" y="1279.3" font-size="4.6" fill="#3a3a3a" text-anchor="start" >B01a</text>
<text x="352.6" y="1289.1" font-size="4.6" fill="#3a3a3a" text-anchor="end" >3.8</text>
<text x="372.1" y="1280.0" font-size="4.6" fill="#3a3a3a" text-anchor="start" >B02b</text>
<text x="367.7" y="1288.4" font-size="4.6" fill="#3a3a3a" text-anchor="end" >3.67</text>
<text x="400.1" y="1280.0" font-size="4.6" fill="#3a3a3a" text-anchor="start" >C02a</text>
<text x="395.7" y="1288.4" font-size="4.6" fill="#3a3a3a" text-anchor="end" >5.93</text>
<text x="358.4" y="1326.8" font-size="4.6" fill="#3a3a3a" text-anchor="start" >B01b</text>
<text x="352.6" y="1336.6" font-size="4.6" fill="#3a3a3a" text-anchor="end" >4.5</text>
<text x="387.5" y="1326.2" font-size="4.6" fill="#3a3a3a" text-anchor="start" >B02a</text>
<text x="380.5" y="1337.2" font-size="4.6" fill="#3a3a3a" text-anchor="end" >3.8</text>
<text x="373.1" y="1373.4" font-size="4.6" fill="#3a3a3a" text-anchor="start" >A03d</text>
<text x="365.5" y="1385.0" font-size="4.6" fill="#3a3a3a" text-anchor="end" >3.67</text>
<text x="268.1" y="1375.0" font-size="4.6" fill="#3a3a3a" text-anchor="start" >E01a</text>
<text x="263.7" y="1383.4" font-size="4.6" fill="#3a3a3a" text-anchor="end" >5.53</text>
<text x="269.4" y="1421.2" font-size="4.6" fill="#3a3a3a" text-anchor="start" >D01a</text>
<text x="262.4" y="1432.2" font-size="4.6" fill="#3a3a3a" text-anchor="end" >5.93</text>
<text x="215.5" y="1422.5" font-size="4.6" fill="#3a3a3a" text-anchor="start" >C03a</text>
<text x="211.1" y="1430.9" font-size="4.6" fill="#3a3a3a" text-anchor="end" >5.93</text>
<text x="372.8" y="1421.8" font-size="4.6" fill="#3a3a3a" text-anchor="start" >A03c</text>
<text x="367.0" y="1431.6" font-size="4.6" fill="#3a3a3a" text-anchor="end" >3.67</text>
<text x="406.2" y="1422.5" font-size="4.6" fill="#3a3a3a" text-anchor="start" >C04a</text>
<text x="401.8" y="1430.9" font-size="4.6" fill="#3a3a3a" text-anchor="end" >5.53</text>
<text x="270.3" y="1467.8" font-size="4.6" fill="#3a3a3a" text-anchor="start" >A02b</text>
<text x="261.5" y="1480.6" font-size="4.6" fill="#3a3a3a" text-anchor="end" >3.53</text>
<text x="216.2" y="1469.3" font-size="4.6" fill="#3a3a3a" text-anchor="start" >B03a</text>
<text x="210.4" y="1479.1" font-size="4.6" fill="#3a3a3a" text-anchor="end" >4.47</text>
<text x="303.5" y="1468.7" font-size="4.6" fill="#3a3a3a" text-anchor="start" >D01b</text>
<text x="296.5" y="1479.7" font-size="4.6" fill="#3a3a3a" text-anchor="end" >5.93</text>
<text x="335.9" y="1470.2" font-size="4.6" fill="#3a3a3a" text-anchor="start" >D03b</text>
<text x="331.9" y="1478.2" font-size="4.6" fill="#3a3a3a" text-anchor="end" >5.53</text>
<text x="372.8" y="1469.3" font-size="4.6" fill="#3a3a3a" text-anchor="start" >A03b</text>
<text x="367.0" y="1479.1" font-size="4.6" fill="#3a3a3a" text-anchor="end" >2.87</text>
<text x="406.9" y="1469.3" font-size="4.6" fill="#3a3a3a" text-anchor="start" >A04a</text>
<text x="401.1" y="1479.1" font-size="4.6" fill="#3a3a3a" text-anchor="end" >4.6</text>
<text x="217.7" y="1515.3" font-size="4.6" fill="#3a3a3a" text-anchor="start" >A02a</text>
<text x="208.9" y="1528.1" font-size="4.6" fill="#3a3a3a" text-anchor="end" >3.13</text>
<text x="305.6" y="1514.1" font-size="4.6" fill="#3a3a3a" text-anchor="start" >D03a</text>
<text x="294.4" y="1529.3" font-size="4.6" fill="#3a3a3a" text-anchor="end" >5.93</text>
<text x="391.1" y="1515.3" font-size="4.6" fill="#3a3a3a" text-anchor="start" >A03a</text>
<text x="382.3" y="1528.1" font-size="4.6" fill="#3a3a3a" text-anchor="end" >2.73</text>
<text x="475.5" y="1517.5" font-size="4.6" fill="#3a3a3a" text-anchor="start" >D02a</text>
<text x="471.1" y="1525.9" font-size="4.6" fill="#3a3a3a" text-anchor="end" >5.93</text>
<text x="347.6" y="1562.8" font-size="4.6" fill="#3a3a3a" text-anchor="start" >A01a</text>
<text x="338.8" y="1575.6" font-size="4.6" fill="#3a3a3a" text-anchor="end" >2.87</text>
<circle cx="852.8" cy="1330.0" r="2.8" fill="#e0b040" stroke="#603a10" stroke-width="1.1"/>
<circle cx="852.8" cy="1377.5" r="4" fill="#44e8fc" stroke="#1818a0" stroke-width="1.3"/>
<circle cx="878.1" cy="1377.5" r="2.8" fill="#a030f0" stroke="#6010b8" stroke-width="1.0"/>
<circle cx="936.5" cy="1377.5" r="2.8" fill="#f2702e" stroke="#a81a10" stroke-width="1.1"/>
<circle cx="794.1" cy="1425.0" r="2.8" fill="#5858f0" stroke="#1818a0" stroke-width="1.0"/>
<circle cx="852.8" cy="1425.0" r="4" fill="#44e8fc" stroke="#1818a0" stroke-width="1.3"/>
<circle cx="878.1" cy="1425.0" r="4" fill="#f8b078" stroke="#b01a10" stroke-width="1.1"/>
<circle cx="936.5" cy="1425.0" r="4" fill="#f2702e" stroke="#a81a10" stroke-width="1.1"/>
<circle cx="995.5" cy="1425.0" r="2.8" fill="#f2702e" stroke="#a81a10" stroke-width="1.1"/>
<circle cx="1054.1" cy="1425.0" r="2.8" fill="#a030f0" stroke="#6010b8" stroke-width="1.0"/>
<circle cx="823.5" cy="1472.5" r="5.5" fill="#f2f230" stroke="#dede30" stroke-width="1.0"/>
<circle cx="966.1" cy="1472.5" r="8.5" fill="#fbfbd6" stroke="#dee43a" stroke-width="1.5"/>
<circle cx="1036.0" cy="1472.5" r="2.8" fill="#f0b0f4" stroke="#6010b8" stroke-width="1.1"/>
<circle cx="823.5" cy="1520.0" r="4" fill="#fbfbd6" stroke="#dee43a" stroke-width="1.5"/>
<circle cx="1000.8" cy="1520.0" r="5.5" fill="#fbfbd6" stroke="#dee43a" stroke-width="1.5"/>
<circle cx="912.0" cy="1567.5" r="4" fill="#fbfbd6" stroke="#dee43a" stroke-width="1.5"/>
<path d="M852.8 1330.0L852.8 1377.5M852.8 1377.5L852.8 1425.0M852.8 1425.0L823.5 1472.5M794.1 1425.0L823.5 1472.5M823.5 1472.5L823.5 1520.0M823.5 1520.0L912.0 1567.5M912.0 1567.5L1000.8 1520.0M1000.8 1520.0L1036.0 1472.5M1000.8 1520.0L966.1 1472.5M966.1 1472.5L878.1 1425.0M966.1 1472.5L936.5 1425.0M966.1 1472.5L995.5 1425.0M966.1 1472.5L1054.1 1425.0M878.1 1425.0L878.1 1377.5M936.5 1425.0L936.5 1377.5" stroke="#8e8e8e" stroke-width="0.85" fill="none"/>
<text x="855.0" y="1327.8" font-size="4.6" fill="#3a3a3a" text-anchor="start" >E01a</text>
<text x="850.6" y="1336.2" font-size="4.6" fill="#3a3a3a" text-anchor="end" >5.93</text>
<text x="855.7" y="1374.6" font-size="4.6" fill="#3a3a3a" text-anchor="start" >D02b</text>
<text x="849.9" y="1384.4" font-size="4.6" fill="#3a3a3a" text-anchor="end" >5</text>
<text x="880.3" y="1375.3" font-size="4.6" fill="#3a3a3a" text-anchor="start" >C01a</text>
<text x="875.9" y="1383.7" font-size="4.6" fill="#3a3a3a" text-anchor="end" >4.6</text>
<text x="938.7" y="1375.3" font-size="4.6" fill="#3a3a3a" text-anchor="start" >B02b</text>
<text x="934.3" y="1383.7" font-size="4.6" fill="#3a3a3a" text-anchor="end" >4.6</text>
<text x="796.3" y="1422.8" font-size="4.6" fill="#3a3a3a" text-anchor="start" >D01</text>
<text x="791.9" y="1431.2" font-size="4.6" fill="#3a3a3a" text-anchor="end" >4.47</text>
<text x="855.7" y="1422.1" font-size="4.6" fill="#3a3a3a" text-anchor="start" >D02a</text>
<text x="849.9" y="1431.9" font-size="4.6" fill="#3a3a3a" text-anchor="end" >4.2</text>
<text x="881.0" y="1422.1" font-size="4.6" fill="#3a3a3a" text-anchor="start" >B01a</text>
<text x="875.2" y="1431.9" font-size="4.6" fill="#3a3a3a" text-anchor="end" >3.67</text>
<text x="939.4" y="1422.1" font-size="4.6" fill="#3a3a3a" text-anchor="start" >B02a</text>
<text x="933.6" y="1431.9" font-size="4.6" fill="#3a3a3a" text-anchor="end" >3.67</text>
<text x="997.7" y="1422.8" font-size="4.6" fill="#3a3a3a" text-anchor="start" >B03a</text>
<text x="993.3" y="1431.2" font-size="4.6" fill="#3a3a3a" text-anchor="end" >3.8</text>
<text x="1056.3" y="1422.8" font-size="4.6" fill="#3a3a3a" text-anchor="start" >C02a</text>
<text x="1051.9" y="1431.2" font-size="4.6" fill="#3a3a3a" text-anchor="end" >3.8</text>
<text x="827.3" y="1468.7" font-size="4.6" fill="#3a3a3a" text-anchor="start" >A02a</text>
<text x="819.7" y="1480.3" font-size="4.6" fill="#3a3a3a" text-anchor="end" >3.53</text>
<text x="971.7" y="1466.9" font-size="4.6" fill="#3a3a3a" text-anchor="start" >A03b</text>
<text x="960.5" y="1482.1" font-size="4.6" fill="#3a3a3a" text-anchor="end" >2.87</text>
<text x="1038.2" y="1470.3" font-size="4.6" fill="#3a3a3a" text-anchor="start" >C03a</text>
<text x="1033.8" y="1478.7" font-size="4.6" fill="#3a3a3a" text-anchor="end" >3.67</text>
<text x="826.4" y="1517.1" font-size="4.6" fill="#3a3a3a" text-anchor="start" >A01b</text>
<text x="820.6" y="1526.9" font-size="4.6" fill="#3a3a3a" text-anchor="end" >3.13</text>
<text x="1004.6" y="1516.2" font-size="4.6" fill="#3a3a3a" text-anchor="start" >A03a</text>
<text x="997.0" y="1527.8" font-size="4.6" fill="#3a3a3a" text-anchor="end" >2.73</text>
<text x="914.9" y="1564.6" font-size="4.6" fill="#3a3a3a" text-anchor="start" >A01a</text>
<text x="909.1" y="1574.4" font-size="4.6" fill="#3a3a3a" text-anchor="end" >2.87</text>
</svg>
</body></html>
